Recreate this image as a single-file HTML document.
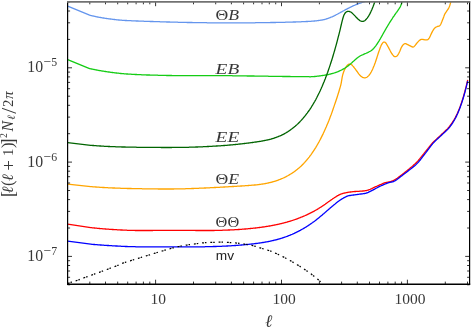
<!DOCTYPE html>
<html><head><meta charset="utf-8"><title>Noise power spectra</title>
<style>html,body{margin:0;padding:0;background:#fff;overflow:hidden}body{width:471px;height:328px;position:relative}</style>
</head><body>
<svg width="471" height="328" viewBox="0 0 471 328" style="position:absolute;left:0;top:0;will-change:transform;opacity:0.999">
<defs><clipPath id="c"><rect x="67.6" y="1.8" width="402.0" height="282.34999999999997"/></clipPath></defs>
<g clip-path="url(#c)" fill="none" stroke-linejoin="round" stroke-linecap="butt">
<path d="M67.7 6.1 L89.6 15.2 L90.1 15.3 L90.6 15.4 L91.1 15.6 L91.6 15.7 L92.1 15.8 L92.6 15.9 L93.1 16.0 L93.6 16.1 L94.1 16.2 L94.6 16.3 L95.1 16.4 L95.6 16.6 L96.1 16.7 L96.6 16.8 L97.1 16.9 L97.6 17.0 L98.1 17.1 L98.6 17.2 L99.1 17.3 L99.6 17.3 L100.1 17.4 L100.6 17.5 L101.1 17.6 L101.6 17.7 L102.1 17.8 L102.6 17.9 L103.1 18.0 L103.6 18.0 L104.1 18.1 L104.6 18.2 L105.1 18.3 L105.6 18.3 L106.1 18.4 L106.6 18.5 L107.1 18.6 L107.6 18.6 L108.1 18.7 L108.6 18.8 L109.1 18.8 L109.6 18.9 L110.1 19.0 L110.6 19.0 L111.1 19.1 L111.6 19.2 L112.1 19.2 L112.6 19.3 L113.1 19.3 L113.6 19.4 L114.1 19.5 L114.6 19.5 L115.1 19.6 L115.6 19.6 L116.1 19.7 L116.6 19.8 L117.1 19.8 L117.6 19.9 L118.1 19.9 L118.6 20.0 L119.1 20.0 L119.6 20.1 L120.1 20.1 L120.6 20.1 L121.1 20.2 L121.6 20.2 L122.1 20.3 L122.6 20.3 L123.1 20.3 L123.6 20.4 L124.1 20.4 L124.6 20.4 L125.1 20.5 L125.6 20.5 L126.1 20.5 L126.6 20.5 L127.1 20.6 L127.6 20.6 L128.1 20.6 L128.6 20.6 L129.1 20.7 L129.6 20.7 L130.1 20.7 L130.6 20.7 L131.1 20.7 L131.6 20.8 L132.1 20.8 L132.6 20.8 L133.1 20.8 L133.6 20.9 L134.1 20.9 L134.6 20.9 L135.1 20.9 L135.6 20.9 L136.1 21.0 L136.6 21.0 L137.1 21.0 L137.6 21.0 L138.1 21.0 L138.6 21.1 L139.1 21.1 L139.6 21.1 L140.1 21.1 L140.6 21.1 L141.1 21.2 L141.6 21.2 L142.1 21.2 L142.6 21.2 L143.1 21.2 L143.6 21.2 L144.1 21.3 L144.6 21.3 L145.1 21.3 L145.6 21.3 L146.1 21.3 L146.6 21.3 L147.1 21.4 L147.6 21.4 L148.1 21.4 L148.6 21.4 L149.1 21.4 L149.6 21.4 L150.1 21.5 L150.6 21.5 L151.1 21.5 L151.6 21.5 L152.1 21.5 L152.6 21.5 L153.1 21.5 L153.6 21.6 L154.1 21.6 L154.6 21.6 L155.1 21.6 L155.6 21.6 L156.1 21.6 L156.6 21.7 L157.1 21.7 L157.6 21.7 L158.1 21.7 L158.6 21.7 L159.1 21.7 L159.6 21.7 L160.1 21.8 L160.6 21.8 L161.1 21.8 L161.6 21.8 L162.1 21.8 L162.6 21.8 L163.1 21.9 L163.6 21.9 L164.1 21.9 L164.6 21.9 L165.1 21.9 L165.6 21.9 L166.1 21.9 L166.6 22.0 L167.1 22.0 L167.6 22.0 L168.1 22.0 L168.6 22.0 L169.1 22.0 L169.6 22.0 L170.1 22.1 L170.6 22.1 L171.1 22.1 L171.6 22.1 L172.1 22.1 L172.6 22.1 L173.1 22.1 L173.6 22.1 L174.1 22.2 L174.6 22.2 L175.1 22.2 L175.6 22.2 L176.1 22.2 L176.6 22.2 L177.1 22.2 L177.6 22.2 L178.1 22.3 L178.6 22.3 L179.1 22.3 L179.6 22.3 L180.1 22.3 L180.6 22.3 L181.1 22.3 L181.6 22.3 L182.1 22.3 L182.6 22.4 L183.1 22.4 L183.6 22.4 L184.1 22.4 L184.6 22.4 L185.1 22.4 L185.6 22.4 L186.1 22.4 L186.6 22.4 L187.1 22.5 L187.6 22.5 L188.1 22.5 L188.6 22.5 L189.1 22.5 L189.6 22.5 L190.1 22.5 L190.6 22.5 L191.1 22.5 L191.6 22.5 L192.1 22.5 L192.6 22.6 L193.1 22.6 L193.6 22.6 L194.1 22.6 L194.6 22.6 L195.1 22.6 L195.6 22.6 L196.1 22.6 L196.6 22.6 L197.1 22.6 L197.6 22.6 L198.1 22.6 L198.6 22.6 L199.1 22.7 L199.6 22.7 L200.1 22.7 L200.6 22.7 L201.1 22.7 L201.6 22.7 L202.1 22.7 L202.6 22.7 L203.1 22.7 L203.6 22.7 L204.1 22.7 L204.6 22.7 L205.1 22.7 L205.6 22.7 L206.1 22.7 L206.6 22.7 L207.1 22.8 L207.6 22.8 L208.1 22.8 L208.6 22.8 L209.1 22.8 L209.6 22.8 L210.1 22.8 L210.6 22.8 L211.1 22.8 L211.6 22.8 L212.1 22.8 L212.6 22.8 L213.1 22.8 L213.6 22.8 L214.1 22.8 L214.6 22.8 L215.1 22.8 L215.6 22.8 L216.1 22.8 L216.6 22.8 L217.1 22.8 L217.6 22.8 L218.1 22.8 L218.6 22.8 L219.1 22.8 L219.6 22.8 L220.1 22.9 L220.6 22.9 L221.1 22.9 L221.6 22.9 L222.1 22.9 L222.6 22.9 L223.1 22.9 L223.6 22.9 L224.1 22.9 L224.6 22.9 L225.1 22.9 L225.6 22.9 L226.1 22.9 L226.6 22.9 L227.1 22.9 L227.6 22.9 L228.1 22.9 L228.6 22.9 L229.1 22.9 L229.6 22.9 L230.1 22.9 L230.6 22.9 L231.1 22.9 L231.6 22.9 L232.1 22.9 L232.6 22.9 L233.1 22.9 L233.6 22.9 L234.1 22.9 L234.6 22.9 L235.1 22.9 L235.6 22.9 L236.1 22.9 L236.6 22.9 L237.1 22.9 L237.6 22.9 L238.1 22.9 L238.6 22.9 L239.1 22.9 L239.6 22.9 L240.1 22.9 L240.6 22.9 L241.1 22.9 L241.6 22.9 L242.1 22.9 L242.6 22.8 L243.1 22.8 L243.6 22.8 L244.1 22.8 L244.6 22.8 L245.1 22.8 L245.6 22.8 L246.1 22.8 L246.6 22.8 L247.1 22.8 L247.6 22.8 L248.1 22.8 L248.6 22.8 L249.1 22.8 L249.6 22.8 L250.1 22.8 L250.6 22.8 L251.1 22.8 L251.6 22.8 L252.1 22.8 L252.6 22.8 L253.1 22.8 L253.6 22.8 L254.1 22.8 L254.6 22.8 L255.1 22.8 L255.6 22.7 L256.1 22.7 L256.6 22.7 L257.1 22.7 L257.6 22.7 L258.1 22.7 L258.6 22.7 L259.1 22.7 L259.6 22.7 L260.1 22.7 L260.6 22.7 L261.1 22.7 L261.6 22.7 L262.1 22.7 L262.6 22.7 L263.1 22.7 L263.6 22.6 L264.1 22.6 L264.6 22.6 L265.1 22.6 L265.6 22.6 L266.1 22.6 L266.6 22.6 L267.1 22.6 L267.6 22.6 L268.1 22.6 L268.6 22.6 L269.1 22.6 L269.6 22.6 L270.1 22.6 L270.6 22.5 L271.1 22.5 L271.6 22.5 L272.1 22.5 L272.6 22.5 L273.1 22.5 L273.6 22.5 L274.1 22.5 L274.6 22.5 L275.1 22.5 L275.6 22.5 L276.1 22.4 L276.6 22.4 L277.1 22.4 L277.6 22.4 L278.1 22.4 L278.6 22.4 L279.1 22.4 L279.6 22.4 L280.1 22.4 L280.6 22.4 L281.1 22.4 L281.6 22.3 L282.1 22.3 L282.6 22.3 L283.1 22.3 L283.6 22.3 L284.1 22.3 L284.6 22.3 L285.1 22.3 L285.6 22.2 L286.1 22.2 L286.6 22.2 L287.1 22.2 L287.6 22.2 L288.1 22.2 L288.6 22.2 L289.1 22.2 L289.6 22.1 L290.1 22.1 L290.6 22.1 L291.1 22.1 L291.6 22.1 L292.1 22.1 L292.6 22.1 L293.1 22.0 L293.6 22.0 L294.1 22.0 L294.6 22.0 L295.1 22.0 L295.6 22.0 L296.1 21.9 L296.6 21.9 L297.1 21.9 L297.6 21.9 L298.1 21.9 L298.6 21.9 L299.1 21.8 L299.6 21.8 L300.1 21.8 L300.6 21.8 L301.1 21.8 L301.6 21.7 L302.1 21.7 L302.6 21.7 L303.1 21.7 L303.6 21.7 L304.1 21.6 L304.6 21.6 L305.1 21.6 L305.6 21.6 L306.1 21.5 L306.6 21.5 L307.1 21.5 L307.6 21.5 L308.1 21.4 L308.6 21.4 L309.1 21.4 L309.6 21.4 L310.1 21.3 L310.6 21.3 L311.1 21.3 L311.6 21.2 L312.1 21.2 L312.6 21.2 L313.1 21.1 L313.6 21.1 L314.1 21.0 L314.6 21.0 L315.1 20.9 L315.6 20.9 L316.1 20.8 L316.6 20.8 L317.1 20.7 L317.6 20.6 L318.1 20.6 L318.6 20.5 L319.1 20.4 L319.6 20.4 L320.1 20.3 L320.6 20.2 L321.1 20.2 L321.6 20.1 L322.1 20.0 L322.6 19.9 L323.1 19.8 L323.6 19.7 L324.1 19.6 L324.6 19.5 L325.1 19.3 L325.6 19.2 L326.1 19.0 L326.6 18.9 L327.1 18.7 L327.6 18.6 L328.1 18.4 L328.6 18.2 L329.1 18.0 L329.6 17.8 L330.1 17.6 L330.6 17.4 L331.1 17.2 L331.6 17.0 L332.1 16.8 L332.6 16.6 L333.1 16.3 L333.6 16.1 L334.1 15.8 L334.6 15.6 L335.1 15.3 L335.6 15.1 L336.1 14.8 L336.6 14.5 L337.1 14.3 L337.6 14.0 L338.1 13.8 L338.6 13.5 L339.1 13.2 L339.6 13.0 L340.1 12.7 L340.6 12.4 L341.1 12.1 L341.6 11.9 L342.1 11.6 L342.6 11.3 L343.1 11.0 L343.6 10.8 L344.1 10.5 L344.6 10.2 L345.1 9.9 L345.6 9.7 L346.1 9.4 L346.6 9.1 L347.1 8.9 L347.6 8.6 L348.1 8.3 L348.6 8.1 L349.1 7.8 L349.6 7.6 L350.1 7.3 L350.6 7.1 L351.1 6.8 L351.6 6.6 L352.1 6.4 L352.6 6.1 L353.1 5.9 L353.6 5.7 L354.1 5.5 L354.6 5.3 L355.1 5.0 L355.6 4.8 L356.1 4.6 L356.6 4.4 L357.1 4.3 L357.6 4.1 L358.1 3.9 L358.6 3.7 L359.1 3.5 L359.6 3.3 L360.1 3.1 L360.6 3.0 L361.1 2.8 L361.6 2.6 L362.1 2.4 L362.6 2.3 L363.1 2.1 L363.6 1.9 L364.1 1.8 L364.6 1.6 L365.0 1.5" stroke="#6495ed" stroke-width="1.3"/>
<path d="M67.7 184.1 L90.7 186.6 L91.2 186.6 L91.7 186.7 L92.2 186.7 L92.7 186.8 L93.2 186.8 L93.7 186.8 L94.2 186.9 L94.7 186.9 L95.2 186.9 L95.7 187.0 L96.2 187.0 L96.7 187.1 L97.2 187.1 L97.7 187.1 L98.2 187.2 L98.7 187.2 L99.2 187.2 L99.7 187.3 L100.2 187.3 L100.7 187.3 L101.2 187.4 L101.7 187.4 L102.2 187.4 L102.7 187.5 L103.2 187.5 L103.7 187.5 L104.2 187.5 L104.7 187.6 L105.2 187.6 L105.7 187.6 L106.2 187.7 L106.7 187.7 L107.2 187.7 L107.7 187.7 L108.2 187.8 L108.7 187.8 L109.2 187.8 L109.7 187.8 L110.2 187.9 L110.7 187.9 L111.2 187.9 L111.7 187.9 L112.2 187.9 L112.7 188.0 L113.2 188.0 L113.7 188.0 L114.2 188.0 L114.7 188.0 L115.2 188.1 L115.7 188.1 L116.2 188.1 L116.7 188.1 L117.2 188.1 L117.7 188.2 L118.2 188.2 L118.7 188.2 L119.2 188.2 L119.7 188.2 L120.2 188.2 L120.7 188.3 L121.2 188.3 L121.7 188.3 L122.2 188.3 L122.7 188.3 L123.2 188.3 L123.7 188.4 L124.2 188.4 L124.7 188.4 L125.2 188.4 L125.7 188.4 L126.2 188.4 L126.7 188.4 L127.2 188.5 L127.7 188.5 L128.2 188.5 L128.7 188.5 L129.2 188.5 L129.7 188.5 L130.2 188.5 L130.7 188.5 L131.2 188.5 L131.7 188.6 L132.2 188.6 L132.7 188.6 L133.2 188.6 L133.7 188.6 L134.2 188.6 L134.7 188.6 L135.2 188.6 L135.7 188.6 L136.2 188.6 L136.7 188.7 L137.2 188.7 L137.7 188.7 L138.2 188.7 L138.7 188.7 L139.2 188.7 L139.7 188.7 L140.2 188.7 L140.7 188.7 L141.2 188.7 L141.7 188.7 L142.2 188.8 L142.7 188.8 L143.2 188.8 L143.7 188.8 L144.2 188.8 L144.7 188.8 L145.2 188.8 L145.7 188.8 L146.2 188.8 L146.7 188.8 L147.2 188.8 L147.7 188.8 L148.2 188.8 L148.7 188.8 L149.2 188.9 L149.7 188.9 L150.2 188.9 L150.7 188.9 L151.2 188.9 L151.7 188.9 L152.2 188.9 L152.7 188.9 L153.2 188.9 L153.7 188.9 L154.2 188.9 L154.7 188.9 L155.2 188.9 L155.7 188.9 L156.2 188.9 L156.7 188.9 L157.2 188.9 L157.7 188.9 L158.2 189.0 L158.7 189.0 L159.2 189.0 L159.7 189.0 L160.2 189.0 L160.7 189.0 L161.2 189.0 L161.7 189.0 L162.2 189.0 L162.7 189.0 L163.2 189.0 L163.7 189.0 L164.2 189.0 L164.7 189.0 L165.2 189.0 L165.7 189.0 L166.2 189.0 L166.7 189.0 L167.2 189.0 L167.7 189.0 L168.2 189.0 L168.7 189.0 L169.2 189.0 L169.7 189.0 L170.2 189.0 L170.7 189.0 L171.2 189.0 L171.7 189.0 L172.2 189.0 L172.7 189.0 L173.2 189.0 L173.7 189.0 L174.2 188.9 L174.7 188.9 L175.2 188.9 L175.7 188.9 L176.2 188.9 L176.7 188.9 L177.2 188.9 L177.7 188.9 L178.2 188.9 L178.7 188.9 L179.2 188.9 L179.7 188.9 L180.2 188.9 L180.7 188.9 L181.2 188.8 L181.7 188.8 L182.2 188.8 L182.7 188.8 L183.2 188.8 L183.7 188.8 L184.2 188.8 L184.7 188.8 L185.2 188.8 L185.7 188.7 L186.2 188.7 L186.7 188.7 L187.2 188.7 L187.7 188.7 L188.2 188.7 L188.7 188.6 L189.2 188.6 L189.7 188.6 L190.2 188.6 L190.7 188.6 L191.2 188.6 L191.7 188.5 L192.2 188.5 L192.7 188.5 L193.2 188.5 L193.7 188.5 L194.2 188.4 L194.7 188.4 L195.2 188.4 L195.7 188.4 L196.2 188.4 L196.7 188.3 L197.2 188.3 L197.7 188.3 L198.2 188.3 L198.7 188.3 L199.2 188.2 L199.7 188.2 L200.2 188.2 L200.7 188.2 L201.2 188.2 L201.7 188.1 L202.2 188.1 L202.7 188.1 L203.2 188.1 L203.7 188.1 L204.2 188.0 L204.7 188.0 L205.2 188.0 L205.7 188.0 L206.2 187.9 L206.7 187.9 L207.2 187.9 L207.7 187.9 L208.2 187.8 L208.7 187.8 L209.2 187.8 L209.7 187.8 L210.2 187.7 L210.7 187.7 L211.2 187.7 L211.7 187.7 L212.2 187.6 L212.7 187.6 L213.2 187.6 L213.7 187.6 L214.2 187.5 L214.7 187.5 L215.2 187.5 L215.7 187.5 L216.2 187.4 L216.7 187.4 L217.2 187.4 L217.7 187.4 L218.2 187.3 L218.7 187.3 L219.2 187.3 L219.7 187.3 L220.2 187.2 L220.7 187.2 L221.2 187.2 L221.7 187.1 L222.2 187.1 L222.7 187.1 L223.2 187.1 L223.7 187.0 L224.2 187.0 L224.7 187.0 L225.2 186.9 L225.7 186.9 L226.2 186.9 L226.7 186.9 L227.2 186.8 L227.7 186.8 L228.2 186.8 L228.7 186.7 L229.2 186.7 L229.7 186.7 L230.2 186.7 L230.7 186.6 L231.2 186.6 L231.7 186.6 L232.2 186.5 L232.7 186.5 L233.2 186.5 L233.7 186.5 L234.2 186.4 L234.7 186.4 L235.2 186.4 L235.7 186.3 L236.2 186.3 L236.7 186.3 L237.2 186.2 L237.7 186.2 L238.2 186.2 L238.7 186.1 L239.2 186.1 L239.7 186.1 L240.2 186.1 L240.7 186.0 L241.2 186.0 L241.7 186.0 L242.2 185.9 L242.7 185.9 L243.2 185.9 L243.7 185.8 L244.2 185.8 L244.7 185.8 L245.2 185.7 L245.7 185.7 L246.2 185.7 L246.7 185.6 L247.2 185.6 L247.7 185.6 L248.2 185.5 L248.7 185.5 L249.2 185.4 L249.7 185.4 L250.2 185.4 L250.7 185.3 L251.2 185.3 L251.7 185.2 L252.2 185.2 L252.7 185.2 L253.2 185.1 L253.7 185.1 L254.2 185.0 L254.7 185.0 L255.2 185.0 L255.7 184.9 L256.2 184.9 L256.7 184.8 L257.2 184.8 L257.7 184.7 L258.2 184.6 L258.7 184.6 L259.2 184.5 L259.7 184.4 L260.2 184.4 L260.7 184.3 L261.2 184.2 L261.7 184.2 L262.2 184.1 L262.7 184.0 L263.2 183.9 L263.7 183.8 L264.2 183.8 L264.7 183.7 L265.2 183.6 L265.7 183.5 L266.2 183.4 L266.7 183.3 L267.2 183.2 L267.7 183.1 L268.2 183.0 L268.7 182.9 L269.2 182.7 L269.7 182.6 L270.2 182.5 L270.7 182.4 L271.2 182.3 L271.7 182.1 L272.2 182.0 L272.7 181.9 L273.2 181.7 L273.7 181.6 L274.2 181.4 L274.7 181.3 L275.2 181.1 L275.7 181.0 L276.2 180.8 L276.7 180.6 L277.2 180.5 L277.7 180.3 L278.2 180.1 L278.7 179.9 L279.2 179.7 L279.7 179.5 L280.2 179.3 L280.7 179.1 L281.2 178.9 L281.7 178.7 L282.2 178.5 L282.7 178.3 L283.2 178.0 L283.7 177.8 L284.2 177.6 L284.7 177.3 L285.2 177.1 L285.7 176.8 L286.2 176.6 L286.7 176.3 L287.2 176.0 L287.7 175.8 L288.2 175.5 L288.7 175.2 L289.2 174.9 L289.7 174.6 L290.2 174.3 L290.7 174.0 L291.2 173.7 L291.7 173.4 L292.2 173.1 L292.7 172.7 L293.2 172.4 L293.7 172.1 L294.2 171.7 L294.7 171.4 L295.2 171.0 L295.7 170.6 L296.2 170.2 L296.7 169.8 L297.2 169.4 L297.7 169.0 L298.2 168.6 L298.7 168.2 L299.2 167.8 L299.7 167.3 L300.2 166.9 L300.7 166.4 L301.2 166.0 L301.7 165.5 L302.2 165.0 L302.7 164.5 L303.2 164.0 L303.7 163.5 L304.2 162.9 L304.7 162.4 L305.2 161.8 L305.7 161.3 L306.2 160.7 L306.7 160.1 L307.2 159.5 L307.7 158.9 L308.2 158.3 L308.7 157.7 L309.2 157.1 L309.7 156.4 L310.2 155.7 L310.7 155.1 L311.2 154.4 L311.7 153.7 L312.2 152.9 L312.7 152.2 L313.2 151.5 L313.7 150.7 L314.2 150.0 L314.7 149.2 L315.2 148.4 L315.7 147.6 L316.2 146.7 L316.7 145.9 L317.2 145.0 L317.7 144.2 L318.2 143.3 L318.7 142.4 L319.2 141.5 L319.7 140.5 L320.2 139.6 L320.7 138.6 L321.2 137.6 L321.7 136.6 L322.2 135.6 L322.7 134.6 L323.2 133.6 L323.7 132.5 L324.2 131.4 L324.7 130.3 L325.2 129.2 L325.7 128.1 L326.2 127.0 L326.7 125.8 L327.2 124.6 L327.7 123.4 L328.2 122.2 L328.7 121.0 L329.2 119.7 L329.7 118.4 L330.2 117.1 L330.7 115.8 L331.2 114.5 L331.7 113.1 L332.2 111.7 L332.7 110.3 L333.2 108.8 L333.7 107.4 L334.2 105.9 L334.7 104.4 L335.2 103.0 L335.7 101.5 L336.2 100.0 L336.7 98.5 L337.2 97.0 L337.7 95.4 L338.2 93.8 L338.7 92.2 L339.2 90.5 L339.7 88.8 L340.2 87.1 L340.7 85.3 L341.2 83.1 L341.7 80.1 L342.2 77.1 L342.7 74.9 L343.2 73.2 L343.7 71.8 L344.2 70.5 L344.7 69.4 L345.2 68.5 L345.7 67.6 L346.2 66.8 L346.7 66.0 L347.2 65.4 L347.7 64.9 L348.2 64.5 L348.7 64.2 L349.2 64.1 L349.7 64.1 L350.2 64.2 L350.7 64.3 L351.2 64.5 L351.7 64.8 L352.2 65.3 L352.7 65.9 L353.2 66.4 L353.7 67.0 L354.2 67.7 L354.7 68.3 L355.2 68.9 L355.7 69.6 L356.2 70.3 L356.7 71.0 L357.2 71.7 L357.7 72.4 L358.2 73.1 L358.7 73.8 L359.2 74.4 L359.7 75.0 L360.2 75.5 L360.7 76.0 L361.2 76.4 L361.7 76.7 L362.2 77.1 L362.7 77.4 L363.2 77.6 L363.7 77.7 L364.2 77.8 L364.7 77.8 L365.2 77.8 L365.7 77.7 L366.2 77.5 L366.7 77.3 L367.2 77.0 L367.7 76.6 L368.2 76.1 L368.7 75.6 L369.2 75.0 L369.7 74.3 L370.2 73.6 L370.7 72.8 L371.2 72.0 L371.7 71.0 L372.2 70.1 L372.7 69.0 L373.2 67.8 L373.7 66.6 L374.2 65.4 L374.7 64.0 L375.2 62.7 L375.7 61.3 L376.2 59.8 L376.7 58.2 L377.2 56.6 L377.7 55.1 L378.2 53.5 L378.7 52.0 L379.2 50.6 L379.7 49.2 L380.2 47.8 L380.7 46.6 L381.2 45.3 L381.7 44.4 L382.2 43.6 L382.7 42.9 L383.2 42.4 L383.7 42.2 L384.2 42.1 L384.7 42.2 L385.2 42.4 L385.7 42.8 L386.2 43.5 L386.7 44.4 L387.2 45.2 L387.7 46.1 L388.2 47.0 L388.7 47.9 L389.2 48.9 L389.7 49.8 L390.2 50.8 L390.7 51.7 L391.2 52.7 L391.7 53.5 L392.2 54.2 L392.7 54.9 L393.2 55.4 L393.7 56.0 L394.2 56.4 L394.7 56.6 L395.2 56.7 L395.7 56.7 L396.2 56.5 L396.7 56.2 L397.2 55.8 L397.7 55.1 L398.2 54.3 L398.7 53.5 L399.2 52.5 L399.7 51.5 L400.2 50.3 L400.7 49.0 L401.2 47.8 L401.7 46.9 L402.2 46.0 L402.7 45.3 L403.2 44.7 L403.7 44.3 L404.2 44.0 L404.7 43.7 L405.2 43.6 L405.7 43.7 L406.2 43.9 L406.7 44.1 L407.2 44.4 L407.7 44.6 L408.2 44.8 L408.7 45.1 L409.2 45.4 L409.7 45.6 L410.2 45.9 L410.7 46.2 L411.2 46.4 L411.7 46.7 L412.2 46.9 L412.7 47.0 L413.2 47.0 L413.7 46.8 L414.2 46.4 L414.7 45.9 L415.2 45.3 L415.7 44.7 L416.2 44.0 L416.7 43.3 L417.2 42.7 L417.7 42.2 L418.2 41.6 L418.7 41.1 L419.2 40.6 L419.7 40.2 L420.2 39.9 L420.7 39.6 L421.2 39.4 L421.7 39.3 L422.2 39.3 L422.7 39.4 L423.2 39.5 L423.7 39.6 L424.2 39.7 L424.7 39.8 L425.2 39.9 L425.7 39.9 L426.2 39.9 L426.7 39.9 L427.2 39.8 L427.7 39.7 L428.2 39.3 L428.7 38.8 L429.2 38.0 L429.7 37.1 L430.2 36.1 L430.7 35.0 L431.2 33.9 L431.7 32.9 L432.2 31.9 L432.7 31.0 L433.2 30.2 L433.7 29.4 L434.2 28.7 L434.7 28.1 L435.2 27.7 L435.7 27.3 L436.2 27.0 L436.7 26.8 L437.2 26.5 L437.7 26.4 L438.2 26.3 L438.7 26.2 L439.2 26.1 L439.7 25.7 L440.2 25.1 L440.7 24.3 L441.2 23.3 L441.7 22.1 L442.2 20.8 L442.7 19.6 L443.2 18.2 L443.7 16.9 L444.2 15.5 L444.7 14.3 L445.2 13.4 L445.7 12.6 L446.2 11.9 L446.7 11.1 L447.2 10.4 L447.7 9.7 L448.2 9.0 L448.7 8.1 L449.2 7.0 L449.7 5.7 L450.2 4.1 L450.7 2.3 L451.1 0.6" stroke="#ffa500" stroke-width="1.3"/>
<path d="M67.7 59.6 L89.6 68.6 L90.1 68.7 L90.6 68.8 L91.1 68.9 L91.6 69.0 L92.1 69.1 L92.6 69.2 L93.1 69.3 L93.6 69.4 L94.1 69.5 L94.6 69.6 L95.1 69.7 L95.6 69.8 L96.1 69.9 L96.6 70.0 L97.1 70.1 L97.6 70.2 L98.1 70.3 L98.6 70.4 L99.1 70.5 L99.6 70.6 L100.1 70.7 L100.6 70.7 L101.1 70.8 L101.6 70.9 L102.1 71.0 L102.6 71.1 L103.1 71.2 L103.6 71.2 L104.1 71.3 L104.6 71.4 L105.1 71.5 L105.6 71.5 L106.1 71.6 L106.6 71.7 L107.1 71.8 L107.6 71.8 L108.1 71.9 L108.6 72.0 L109.1 72.0 L109.6 72.1 L110.1 72.2 L110.6 72.3 L111.1 72.3 L111.6 72.4 L112.1 72.5 L112.6 72.5 L113.1 72.6 L113.6 72.7 L114.1 72.7 L114.6 72.8 L115.1 72.8 L115.6 72.9 L116.1 73.0 L116.6 73.0 L117.1 73.1 L117.6 73.1 L118.1 73.2 L118.6 73.2 L119.1 73.3 L119.6 73.4 L120.1 73.4 L120.6 73.5 L121.1 73.5 L121.6 73.6 L122.1 73.6 L122.6 73.6 L123.1 73.7 L123.6 73.7 L124.1 73.8 L124.6 73.8 L125.1 73.8 L125.6 73.9 L126.1 73.9 L126.6 74.0 L127.1 74.0 L127.6 74.0 L128.1 74.1 L128.6 74.1 L129.1 74.1 L129.6 74.1 L130.1 74.2 L130.6 74.2 L131.1 74.2 L131.6 74.3 L132.1 74.3 L132.6 74.3 L133.1 74.4 L133.6 74.4 L134.1 74.4 L134.6 74.4 L135.1 74.5 L135.6 74.5 L136.1 74.5 L136.6 74.5 L137.1 74.6 L137.6 74.6 L138.1 74.6 L138.6 74.6 L139.1 74.7 L139.6 74.7 L140.1 74.7 L140.6 74.7 L141.1 74.7 L141.6 74.8 L142.1 74.8 L142.6 74.8 L143.1 74.8 L143.6 74.8 L144.1 74.9 L144.6 74.9 L145.1 74.9 L145.6 74.9 L146.1 74.9 L146.6 75.0 L147.1 75.0 L147.6 75.0 L148.1 75.0 L148.6 75.0 L149.1 75.0 L149.6 75.0 L150.1 75.1 L150.6 75.1 L151.1 75.1 L151.6 75.1 L152.1 75.1 L152.6 75.1 L153.1 75.1 L153.6 75.1 L154.1 75.2 L154.6 75.2 L155.1 75.2 L155.6 75.2 L156.1 75.2 L156.6 75.2 L157.1 75.2 L157.6 75.2 L158.1 75.3 L158.6 75.3 L159.1 75.3 L159.6 75.3 L160.1 75.3 L160.6 75.3 L161.1 75.3 L161.6 75.3 L162.1 75.4 L162.6 75.4 L163.1 75.4 L163.6 75.4 L164.1 75.4 L164.6 75.4 L165.1 75.4 L165.6 75.4 L166.1 75.4 L166.6 75.5 L167.1 75.5 L167.6 75.5 L168.1 75.5 L168.6 75.5 L169.1 75.5 L169.6 75.5 L170.1 75.5 L170.6 75.5 L171.1 75.5 L171.6 75.5 L172.1 75.6 L172.6 75.6 L173.1 75.6 L173.6 75.6 L174.1 75.6 L174.6 75.6 L175.1 75.6 L175.6 75.6 L176.1 75.6 L176.6 75.6 L177.1 75.6 L177.6 75.6 L178.1 75.6 L178.6 75.6 L179.1 75.6 L179.6 75.6 L180.1 75.6 L180.6 75.7 L181.1 75.7 L181.6 75.7 L182.1 75.7 L182.6 75.7 L183.1 75.7 L183.6 75.7 L184.1 75.7 L184.6 75.7 L185.1 75.7 L185.6 75.7 L186.1 75.7 L186.6 75.7 L187.1 75.7 L187.6 75.7 L188.1 75.7 L188.6 75.7 L189.1 75.7 L189.6 75.7 L190.1 75.7 L190.6 75.7 L191.1 75.7 L191.6 75.7 L192.1 75.7 L192.6 75.7 L193.1 75.7 L193.6 75.7 L194.1 75.7 L194.6 75.7 L195.1 75.7 L195.6 75.7 L196.1 75.7 L196.6 75.7 L197.1 75.7 L197.6 75.7 L198.1 75.7 L198.6 75.7 L199.1 75.7 L199.6 75.7 L200.1 75.7 L200.6 75.7 L201.1 75.7 L201.6 75.7 L202.1 75.7 L202.6 75.7 L203.1 75.7 L203.6 75.7 L204.1 75.7 L204.6 75.7 L205.1 75.7 L205.6 75.7 L206.1 75.7 L206.6 75.6 L207.1 75.6 L207.6 75.6 L208.1 75.6 L208.6 75.6 L209.1 75.6 L209.6 75.6 L210.1 75.6 L210.6 75.6 L211.1 75.6 L211.6 75.6 L212.1 75.6 L212.6 75.6 L213.1 75.6 L213.6 75.6 L214.1 75.6 L214.6 75.6 L215.1 75.6 L215.6 75.6 L216.1 75.6 L216.6 75.6 L217.1 75.6 L217.6 75.6 L218.1 75.6 L218.6 75.6 L219.1 75.6 L219.6 75.6 L220.1 75.6 L220.6 75.6 L221.1 75.7 L221.6 75.7 L222.1 75.7 L222.6 75.7 L223.1 75.7 L223.6 75.7 L224.1 75.7 L224.6 75.7 L225.1 75.7 L225.6 75.7 L226.1 75.7 L226.6 75.7 L227.1 75.7 L227.6 75.7 L228.1 75.7 L228.6 75.7 L229.1 75.7 L229.6 75.7 L230.1 75.7 L230.6 75.7 L231.1 75.7 L231.6 75.7 L232.1 75.7 L232.6 75.8 L233.1 75.8 L233.6 75.8 L234.1 75.8 L234.6 75.8 L235.1 75.8 L235.6 75.8 L236.1 75.8 L236.6 75.8 L237.1 75.8 L237.6 75.8 L238.1 75.8 L238.6 75.8 L239.1 75.8 L239.6 75.8 L240.1 75.9 L240.6 75.9 L241.1 75.9 L241.6 75.9 L242.1 75.9 L242.6 75.9 L243.1 75.9 L243.6 75.9 L244.1 75.9 L244.6 75.9 L245.1 75.9 L245.6 75.9 L246.1 75.9 L246.6 75.9 L247.1 76.0 L247.6 76.0 L248.1 76.0 L248.6 76.0 L249.1 76.0 L249.6 76.0 L250.1 76.0 L250.6 76.0 L251.1 76.0 L251.6 76.0 L252.1 76.0 L252.6 76.0 L253.1 76.0 L253.6 76.0 L254.1 76.0 L254.6 76.1 L255.1 76.1 L255.6 76.1 L256.1 76.1 L256.6 76.1 L257.1 76.1 L257.6 76.1 L258.1 76.1 L258.6 76.1 L259.1 76.1 L259.6 76.1 L260.1 76.1 L260.6 76.1 L261.1 76.1 L261.6 76.2 L262.1 76.2 L262.6 76.2 L263.1 76.2 L263.6 76.2 L264.1 76.2 L264.6 76.2 L265.1 76.2 L265.6 76.2 L266.1 76.2 L266.6 76.2 L267.1 76.2 L267.6 76.2 L268.1 76.2 L268.6 76.3 L269.1 76.3 L269.6 76.3 L270.1 76.3 L270.6 76.3 L271.1 76.3 L271.6 76.3 L272.1 76.3 L272.6 76.3 L273.1 76.3 L273.6 76.3 L274.1 76.3 L274.6 76.3 L275.1 76.3 L275.6 76.4 L276.1 76.4 L276.6 76.4 L277.1 76.4 L277.6 76.4 L278.1 76.4 L278.6 76.4 L279.1 76.4 L279.6 76.4 L280.1 76.4 L280.6 76.4 L281.1 76.4 L281.6 76.4 L282.1 76.4 L282.6 76.5 L283.1 76.5 L283.6 76.5 L284.1 76.5 L284.6 76.5 L285.1 76.5 L285.6 76.5 L286.1 76.5 L286.6 76.5 L287.1 76.5 L287.6 76.5 L288.1 76.5 L288.6 76.5 L289.1 76.5 L289.6 76.5 L290.1 76.5 L290.6 76.6 L291.1 76.6 L291.6 76.6 L292.1 76.6 L292.6 76.6 L293.1 76.6 L293.6 76.6 L294.1 76.6 L294.6 76.6 L295.1 76.6 L295.6 76.6 L296.1 76.6 L296.6 76.6 L297.1 76.6 L297.6 76.6 L298.1 76.6 L298.6 76.6 L299.1 76.7 L299.6 76.7 L300.1 76.7 L300.6 76.7 L301.1 76.7 L301.6 76.7 L302.1 76.7 L302.6 76.7 L303.1 76.7 L303.6 76.7 L304.1 76.7 L304.6 76.7 L305.1 76.7 L305.6 76.7 L306.1 76.7 L306.6 76.7 L307.1 76.7 L307.6 76.7 L308.1 76.7 L308.6 76.7 L309.1 76.7 L309.6 76.8 L310.1 76.8 L310.6 76.8 L311.1 76.7 L311.6 76.7 L312.1 76.7 L312.6 76.7 L313.1 76.6 L313.6 76.6 L314.1 76.6 L314.6 76.5 L315.1 76.5 L315.6 76.4 L316.1 76.4 L316.6 76.3 L317.1 76.2 L317.6 76.2 L318.1 76.1 L318.6 76.1 L319.1 76.0 L319.6 75.9 L320.1 75.9 L320.6 75.8 L321.1 75.7 L321.6 75.7 L322.1 75.6 L322.6 75.5 L323.1 75.4 L323.6 75.4 L324.1 75.3 L324.6 75.2 L325.1 75.1 L325.6 75.0 L326.1 74.9 L326.6 74.8 L327.1 74.8 L327.6 74.7 L328.1 74.6 L328.6 74.5 L329.1 74.3 L329.6 74.2 L330.1 74.1 L330.6 74.0 L331.1 73.9 L331.6 73.7 L332.1 73.6 L332.6 73.4 L333.1 73.3 L333.6 73.2 L334.1 73.0 L334.6 72.8 L335.1 72.7 L335.6 72.5 L336.1 72.4 L336.6 72.2 L337.1 72.0 L337.6 71.8 L338.1 71.6 L338.6 71.4 L339.1 71.2 L339.6 70.9 L340.1 70.7 L340.6 70.5 L341.1 70.2 L341.6 70.0 L342.1 69.7 L342.6 69.4 L343.1 69.2 L343.6 68.9 L344.1 68.6 L344.6 68.3 L345.1 68.0 L345.6 67.6 L346.1 67.3 L346.6 67.0 L347.1 66.6 L347.6 66.2 L348.1 65.9 L348.6 65.5 L349.1 65.1 L349.6 64.7 L350.1 64.3 L350.6 63.8 L351.1 63.4 L351.6 62.9 L352.1 62.5 L352.6 62.0 L353.1 61.6 L353.6 61.1 L354.1 60.7 L354.6 60.2 L355.1 59.8 L355.6 59.3 L356.1 58.9 L356.6 58.5 L357.1 58.1 L357.6 57.7 L358.1 57.3 L358.6 57.0 L359.1 56.6 L359.6 56.3 L360.1 56.0 L360.6 55.7 L361.1 55.5 L361.6 55.2 L362.1 55.0 L362.6 54.8 L363.1 54.6 L363.6 54.3 L364.1 54.1 L364.6 53.9 L365.1 53.7 L365.6 53.5 L366.1 53.3 L366.6 53.0 L367.1 52.8 L367.6 52.6 L368.1 52.3 L368.6 52.1 L369.1 51.8 L369.6 51.5 L370.1 51.3 L370.6 51.0 L371.1 50.7 L371.6 50.3 L372.1 49.9 L372.6 49.5 L373.1 49.0 L373.6 48.5 L374.1 47.9 L374.6 47.3 L375.1 46.7 L375.6 46.1 L376.1 45.4 L376.6 44.7 L377.1 44.0 L377.6 43.2 L378.1 42.4 L378.6 41.6 L379.1 40.8 L379.6 39.9 L380.1 39.1 L380.6 38.2 L381.1 37.4 L381.6 36.5 L382.1 35.6 L382.6 34.7 L383.1 33.8 L383.6 32.9 L384.1 32.0 L384.6 31.2 L385.1 30.3 L385.6 29.4 L386.1 28.5 L386.6 27.7 L387.1 26.8 L387.6 26.0 L388.1 25.2 L388.6 24.3 L389.1 23.5 L389.6 22.7 L390.1 21.9 L390.6 21.1 L391.1 20.3 L391.6 19.5 L392.1 18.8 L392.6 18.0 L393.1 17.2 L393.6 16.5 L394.1 15.8 L394.6 15.0 L395.1 14.3 L395.6 13.6 L396.1 12.9 L396.6 12.3 L397.1 11.6 L397.6 10.9 L398.1 10.1 L398.6 9.4 L399.1 8.7 L399.6 7.9 L400.1 7.1 L400.6 6.0 L401.1 4.7 L401.6 3.4 L402.1 1.7 L402.3 1.0" stroke="#14cc14" stroke-width="1.3"/>
<path d="M67.7 142.7 L90.7 145.3 L91.2 145.3 L91.7 145.4 L92.2 145.4 L92.7 145.5 L93.2 145.5 L93.7 145.5 L94.2 145.6 L94.7 145.6 L95.2 145.7 L95.7 145.7 L96.2 145.7 L96.7 145.8 L97.2 145.8 L97.7 145.8 L98.2 145.9 L98.7 145.9 L99.2 145.9 L99.7 146.0 L100.2 146.0 L100.7 146.0 L101.2 146.1 L101.7 146.1 L102.2 146.1 L102.7 146.2 L103.2 146.2 L103.7 146.2 L104.2 146.3 L104.7 146.3 L105.2 146.3 L105.7 146.3 L106.2 146.4 L106.7 146.4 L107.2 146.4 L107.7 146.4 L108.2 146.5 L108.7 146.5 L109.2 146.5 L109.7 146.5 L110.2 146.6 L110.7 146.6 L111.2 146.6 L111.7 146.6 L112.2 146.6 L112.7 146.7 L113.2 146.7 L113.7 146.7 L114.2 146.7 L114.7 146.7 L115.2 146.7 L115.7 146.8 L116.2 146.8 L116.7 146.8 L117.2 146.8 L117.7 146.8 L118.2 146.8 L118.7 146.9 L119.2 146.9 L119.7 146.9 L120.2 146.9 L120.7 146.9 L121.2 146.9 L121.7 147.0 L122.2 147.0 L122.7 147.0 L123.2 147.0 L123.7 147.0 L124.2 147.0 L124.7 147.0 L125.2 147.0 L125.7 147.1 L126.2 147.1 L126.7 147.1 L127.2 147.1 L127.7 147.1 L128.2 147.1 L128.7 147.1 L129.2 147.1 L129.7 147.1 L130.2 147.1 L130.7 147.2 L131.2 147.2 L131.7 147.2 L132.2 147.2 L132.7 147.2 L133.2 147.2 L133.7 147.2 L134.2 147.2 L134.7 147.2 L135.2 147.2 L135.7 147.2 L136.2 147.2 L136.7 147.3 L137.2 147.3 L137.7 147.3 L138.2 147.3 L138.7 147.3 L139.2 147.3 L139.7 147.3 L140.2 147.3 L140.7 147.3 L141.2 147.3 L141.7 147.3 L142.2 147.3 L142.7 147.3 L143.2 147.3 L143.7 147.3 L144.2 147.3 L144.7 147.3 L145.2 147.3 L145.7 147.4 L146.2 147.4 L146.7 147.4 L147.2 147.4 L147.7 147.4 L148.2 147.4 L148.7 147.4 L149.2 147.4 L149.7 147.4 L150.2 147.4 L150.7 147.4 L151.2 147.4 L151.7 147.4 L152.2 147.4 L152.7 147.4 L153.2 147.4 L153.7 147.4 L154.2 147.4 L154.7 147.4 L155.2 147.4 L155.7 147.4 L156.2 147.4 L156.7 147.4 L157.2 147.4 L157.7 147.4 L158.2 147.4 L158.7 147.4 L159.2 147.4 L159.7 147.4 L160.2 147.4 L160.7 147.4 L161.2 147.5 L161.7 147.5 L162.2 147.5 L162.7 147.5 L163.2 147.5 L163.7 147.5 L164.2 147.5 L164.7 147.5 L165.2 147.5 L165.7 147.5 L166.2 147.5 L166.7 147.5 L167.2 147.5 L167.7 147.5 L168.2 147.5 L168.7 147.5 L169.2 147.5 L169.7 147.5 L170.2 147.5 L170.7 147.5 L171.2 147.5 L171.7 147.5 L172.2 147.4 L172.7 147.4 L173.2 147.4 L173.7 147.4 L174.2 147.4 L174.7 147.4 L175.2 147.4 L175.7 147.4 L176.2 147.4 L176.7 147.4 L177.2 147.4 L177.7 147.4 L178.2 147.4 L178.7 147.4 L179.2 147.4 L179.7 147.4 L180.2 147.4 L180.7 147.4 L181.2 147.4 L181.7 147.4 L182.2 147.4 L182.7 147.4 L183.2 147.4 L183.7 147.4 L184.2 147.4 L184.7 147.3 L185.2 147.3 L185.7 147.3 L186.2 147.3 L186.7 147.3 L187.2 147.3 L187.7 147.3 L188.2 147.3 L188.7 147.3 L189.2 147.2 L189.7 147.2 L190.2 147.2 L190.7 147.2 L191.2 147.2 L191.7 147.2 L192.2 147.2 L192.7 147.1 L193.2 147.1 L193.7 147.1 L194.2 147.1 L194.7 147.1 L195.2 147.1 L195.7 147.0 L196.2 147.0 L196.7 147.0 L197.2 147.0 L197.7 147.0 L198.2 146.9 L198.7 146.9 L199.2 146.9 L199.7 146.9 L200.2 146.9 L200.7 146.8 L201.2 146.8 L201.7 146.8 L202.2 146.8 L202.7 146.8 L203.2 146.7 L203.7 146.7 L204.2 146.7 L204.7 146.7 L205.2 146.6 L205.7 146.6 L206.2 146.6 L206.7 146.6 L207.2 146.5 L207.7 146.5 L208.2 146.5 L208.7 146.5 L209.2 146.4 L209.7 146.4 L210.2 146.4 L210.7 146.4 L211.2 146.3 L211.7 146.3 L212.2 146.3 L212.7 146.2 L213.2 146.2 L213.7 146.2 L214.2 146.2 L214.7 146.1 L215.2 146.1 L215.7 146.1 L216.2 146.0 L216.7 146.0 L217.2 146.0 L217.7 145.9 L218.2 145.9 L218.7 145.9 L219.2 145.9 L219.7 145.8 L220.2 145.8 L220.7 145.8 L221.2 145.7 L221.7 145.7 L222.2 145.6 L222.7 145.6 L223.2 145.6 L223.7 145.5 L224.2 145.5 L224.7 145.5 L225.2 145.4 L225.7 145.4 L226.2 145.3 L226.7 145.3 L227.2 145.3 L227.7 145.2 L228.2 145.2 L228.7 145.1 L229.2 145.1 L229.7 145.0 L230.2 145.0 L230.7 144.9 L231.2 144.9 L231.7 144.8 L232.2 144.8 L232.7 144.8 L233.2 144.7 L233.7 144.7 L234.2 144.6 L234.7 144.6 L235.2 144.5 L235.7 144.5 L236.2 144.4 L236.7 144.4 L237.2 144.3 L237.7 144.3 L238.2 144.2 L238.7 144.1 L239.2 144.1 L239.7 144.0 L240.2 144.0 L240.7 143.9 L241.2 143.9 L241.7 143.8 L242.2 143.8 L242.7 143.7 L243.2 143.7 L243.7 143.6 L244.2 143.5 L244.7 143.5 L245.2 143.4 L245.7 143.4 L246.2 143.3 L246.7 143.2 L247.2 143.2 L247.7 143.1 L248.2 143.1 L248.7 143.0 L249.2 142.9 L249.7 142.9 L250.2 142.8 L250.7 142.7 L251.2 142.7 L251.7 142.6 L252.2 142.5 L252.7 142.5 L253.2 142.4 L253.7 142.3 L254.2 142.2 L254.7 142.2 L255.2 142.1 L255.7 142.0 L256.2 142.0 L256.7 141.9 L257.2 141.8 L257.7 141.7 L258.2 141.7 L258.7 141.6 L259.2 141.5 L259.7 141.4 L260.2 141.3 L260.7 141.3 L261.2 141.2 L261.7 141.1 L262.2 141.0 L262.7 140.9 L263.2 140.8 L263.7 140.7 L264.2 140.6 L264.7 140.5 L265.2 140.4 L265.7 140.3 L266.2 140.2 L266.7 140.1 L267.2 140.0 L267.7 139.9 L268.2 139.8 L268.7 139.7 L269.2 139.6 L269.7 139.4 L270.2 139.3 L270.7 139.2 L271.2 139.0 L271.7 138.9 L272.2 138.7 L272.7 138.6 L273.2 138.4 L273.7 138.3 L274.2 138.1 L274.7 137.9 L275.2 137.7 L275.7 137.6 L276.2 137.4 L276.7 137.2 L277.2 137.0 L277.7 136.8 L278.2 136.6 L278.7 136.4 L279.2 136.2 L279.7 136.0 L280.2 135.8 L280.7 135.6 L281.2 135.4 L281.7 135.1 L282.2 134.9 L282.7 134.7 L283.2 134.4 L283.7 134.1 L284.2 133.9 L284.7 133.6 L285.2 133.3 L285.7 133.0 L286.2 132.7 L286.7 132.4 L287.2 132.1 L287.7 131.8 L288.2 131.4 L288.7 131.1 L289.2 130.8 L289.7 130.4 L290.2 130.1 L290.7 129.7 L291.2 129.3 L291.7 129.0 L292.2 128.6 L292.7 128.2 L293.2 127.8 L293.7 127.4 L294.2 127.0 L294.7 126.6 L295.2 126.2 L295.7 125.7 L296.2 125.3 L296.7 124.9 L297.2 124.4 L297.7 123.9 L298.2 123.5 L298.7 123.0 L299.2 122.5 L299.7 122.0 L300.2 121.4 L300.7 120.9 L301.2 120.4 L301.7 119.8 L302.2 119.2 L302.7 118.7 L303.2 118.1 L303.7 117.5 L304.2 116.9 L304.7 116.3 L305.2 115.7 L305.7 115.0 L306.2 114.4 L306.7 113.7 L307.2 113.1 L307.7 112.4 L308.2 111.7 L308.7 111.0 L309.2 110.3 L309.7 109.6 L310.2 108.8 L310.7 108.1 L311.2 107.3 L311.7 106.5 L312.2 105.7 L312.7 104.9 L313.2 104.0 L313.7 103.2 L314.2 102.3 L314.7 101.5 L315.2 100.6 L315.7 99.7 L316.2 98.7 L316.7 97.8 L317.2 96.8 L317.7 95.8 L318.2 94.8 L318.7 93.8 L319.2 92.8 L319.7 91.7 L320.2 90.7 L320.7 89.6 L321.2 88.5 L321.7 87.3 L322.2 86.2 L322.7 85.0 L323.2 83.8 L323.7 82.6 L324.2 81.4 L324.7 80.1 L325.2 78.9 L325.7 77.6 L326.2 76.2 L326.7 74.9 L327.2 73.5 L327.7 72.2 L328.2 70.8 L328.7 69.3 L329.2 67.9 L329.7 66.4 L330.2 64.9 L330.7 63.3 L331.2 61.8 L331.7 60.2 L332.2 58.6 L332.7 57.0 L333.2 55.3 L333.7 53.6 L334.2 51.9 L334.7 50.2 L335.2 48.4 L335.7 46.6 L336.2 44.8 L336.7 43.0 L337.2 41.1 L337.7 39.2 L338.2 37.2 L338.7 35.3 L339.2 33.3 L339.7 31.3 L340.2 29.3 L340.7 27.1 L341.2 25.0 L341.7 22.9 L342.2 20.8 L342.7 19.0 L343.2 17.3 L343.7 15.8 L344.2 14.6 L344.7 13.7 L345.2 13.0 L345.7 12.4 L346.2 12.0 L346.7 11.7 L347.2 11.5 L347.7 11.4 L348.2 11.3 L348.7 11.3 L349.2 11.4 L349.7 11.6 L350.2 11.8 L350.7 12.0 L351.2 12.3 L351.7 12.7 L352.2 13.1 L352.7 13.6 L353.2 14.1 L353.7 14.6 L354.2 15.1 L354.7 15.6 L355.2 16.1 L355.7 16.7 L356.2 17.2 L356.7 17.7 L357.2 18.2 L357.7 18.7 L358.2 19.2 L358.7 19.6 L359.2 20.1 L359.7 20.4 L360.2 20.8 L360.7 21.0 L361.2 21.2 L361.7 21.3 L362.2 21.4 L362.7 21.4 L363.2 21.4 L363.7 21.2 L364.2 21.0 L364.7 20.7 L365.2 20.3 L365.7 19.8 L366.2 19.3 L366.7 18.7 L367.2 18.1 L367.7 17.4 L368.2 16.7 L368.7 15.9 L369.2 15.0 L369.7 14.1 L370.2 13.1 L370.7 12.1 L371.2 11.0 L371.7 9.9 L372.2 8.7 L372.7 7.5 L373.2 6.3 L373.7 4.9 L374.2 3.6 L374.7 2.2 L375.2 0.8" stroke="#006400" stroke-width="1.3"/>
<path d="M67.7 224.2 L90.7 227.6 L91.2 227.7 L91.7 227.7 L92.2 227.8 L92.7 227.8 L93.2 227.9 L93.7 227.9 L94.2 228.0 L94.7 228.0 L95.2 228.1 L95.7 228.1 L96.2 228.2 L96.7 228.2 L97.2 228.3 L97.7 228.3 L98.2 228.4 L98.7 228.4 L99.2 228.5 L99.7 228.5 L100.2 228.6 L100.7 228.6 L101.2 228.6 L101.7 228.7 L102.2 228.7 L102.7 228.8 L103.2 228.8 L103.7 228.9 L104.2 228.9 L104.7 228.9 L105.2 229.0 L105.7 229.0 L106.2 229.1 L106.7 229.1 L107.2 229.1 L107.7 229.2 L108.2 229.2 L108.7 229.2 L109.2 229.3 L109.7 229.3 L110.2 229.3 L110.7 229.4 L111.2 229.4 L111.7 229.4 L112.2 229.5 L112.7 229.5 L113.2 229.5 L113.7 229.6 L114.2 229.6 L114.7 229.6 L115.2 229.7 L115.7 229.7 L116.2 229.7 L116.7 229.7 L117.2 229.8 L117.7 229.8 L118.2 229.8 L118.7 229.9 L119.2 229.9 L119.7 229.9 L120.2 229.9 L120.7 230.0 L121.2 230.0 L121.7 230.0 L122.2 230.0 L122.7 230.1 L123.2 230.1 L123.7 230.1 L124.2 230.1 L124.7 230.2 L125.2 230.2 L125.7 230.2 L126.2 230.2 L126.7 230.2 L127.2 230.3 L127.7 230.3 L128.2 230.3 L128.7 230.3 L129.2 230.3 L129.7 230.3 L130.2 230.4 L130.7 230.4 L131.2 230.4 L131.7 230.4 L132.2 230.4 L132.7 230.4 L133.2 230.4 L133.7 230.4 L134.2 230.4 L134.7 230.4 L135.2 230.5 L135.7 230.5 L136.2 230.5 L136.7 230.5 L137.2 230.5 L137.7 230.5 L138.2 230.5 L138.7 230.5 L139.2 230.5 L139.7 230.5 L140.2 230.5 L140.7 230.5 L141.2 230.5 L141.7 230.5 L142.2 230.5 L142.7 230.5 L143.2 230.5 L143.7 230.5 L144.2 230.5 L144.7 230.5 L145.2 230.5 L145.7 230.5 L146.2 230.5 L146.7 230.5 L147.2 230.5 L147.7 230.5 L148.2 230.5 L148.7 230.5 L149.2 230.5 L149.7 230.5 L150.2 230.5 L150.7 230.5 L151.2 230.5 L151.7 230.5 L152.2 230.5 L152.7 230.5 L153.2 230.4 L153.7 230.4 L154.2 230.4 L154.7 230.4 L155.2 230.4 L155.7 230.4 L156.2 230.4 L156.7 230.4 L157.2 230.4 L157.7 230.4 L158.2 230.4 L158.7 230.4 L159.2 230.4 L159.7 230.4 L160.2 230.4 L160.7 230.4 L161.2 230.4 L161.7 230.4 L162.2 230.4 L162.7 230.4 L163.2 230.4 L163.7 230.4 L164.2 230.4 L164.7 230.4 L165.2 230.4 L165.7 230.4 L166.2 230.4 L166.7 230.4 L167.2 230.4 L167.7 230.4 L168.2 230.4 L168.7 230.4 L169.2 230.4 L169.7 230.4 L170.2 230.4 L170.7 230.4 L171.2 230.4 L171.7 230.4 L172.2 230.4 L172.7 230.4 L173.2 230.4 L173.7 230.4 L174.2 230.4 L174.7 230.4 L175.2 230.4 L175.7 230.4 L176.2 230.4 L176.7 230.4 L177.2 230.4 L177.7 230.4 L178.2 230.4 L178.7 230.4 L179.2 230.4 L179.7 230.4 L180.2 230.4 L180.7 230.4 L181.2 230.4 L181.7 230.4 L182.2 230.4 L182.7 230.4 L183.2 230.4 L183.7 230.4 L184.2 230.4 L184.7 230.4 L185.2 230.4 L185.7 230.4 L186.2 230.4 L186.7 230.4 L187.2 230.4 L187.7 230.4 L188.2 230.4 L188.7 230.4 L189.2 230.4 L189.7 230.4 L190.2 230.4 L190.7 230.4 L191.2 230.4 L191.7 230.4 L192.2 230.4 L192.7 230.4 L193.2 230.4 L193.7 230.4 L194.2 230.4 L194.7 230.4 L195.2 230.4 L195.7 230.5 L196.2 230.5 L196.7 230.5 L197.2 230.5 L197.7 230.5 L198.2 230.5 L198.7 230.5 L199.2 230.5 L199.7 230.5 L200.2 230.5 L200.7 230.5 L201.2 230.5 L201.7 230.5 L202.2 230.5 L202.7 230.5 L203.2 230.5 L203.7 230.5 L204.2 230.5 L204.7 230.5 L205.2 230.5 L205.7 230.5 L206.2 230.5 L206.7 230.5 L207.2 230.5 L207.7 230.5 L208.2 230.5 L208.7 230.5 L209.2 230.5 L209.7 230.5 L210.2 230.5 L210.7 230.5 L211.2 230.5 L211.7 230.5 L212.2 230.5 L212.7 230.5 L213.2 230.5 L213.7 230.5 L214.2 230.5 L214.7 230.4 L215.2 230.4 L215.7 230.4 L216.2 230.4 L216.7 230.4 L217.2 230.4 L217.7 230.4 L218.2 230.4 L218.7 230.4 L219.2 230.4 L219.7 230.3 L220.2 230.3 L220.7 230.3 L221.2 230.3 L221.7 230.3 L222.2 230.3 L222.7 230.2 L223.2 230.2 L223.7 230.2 L224.2 230.2 L224.7 230.2 L225.2 230.2 L225.7 230.1 L226.2 230.1 L226.7 230.1 L227.2 230.1 L227.7 230.1 L228.2 230.0 L228.7 230.0 L229.2 230.0 L229.7 230.0 L230.2 229.9 L230.7 229.9 L231.2 229.9 L231.7 229.9 L232.2 229.9 L232.7 229.8 L233.2 229.8 L233.7 229.8 L234.2 229.8 L234.7 229.7 L235.2 229.7 L235.7 229.7 L236.2 229.6 L236.7 229.6 L237.2 229.6 L237.7 229.6 L238.2 229.5 L238.7 229.5 L239.2 229.5 L239.7 229.4 L240.2 229.4 L240.7 229.4 L241.2 229.3 L241.7 229.3 L242.2 229.2 L242.7 229.2 L243.2 229.2 L243.7 229.1 L244.2 229.1 L244.7 229.0 L245.2 229.0 L245.7 229.0 L246.2 228.9 L246.7 228.9 L247.2 228.8 L247.7 228.8 L248.2 228.7 L248.7 228.7 L249.2 228.6 L249.7 228.6 L250.2 228.5 L250.7 228.5 L251.2 228.4 L251.7 228.4 L252.2 228.3 L252.7 228.3 L253.2 228.2 L253.7 228.2 L254.2 228.1 L254.7 228.1 L255.2 228.0 L255.7 228.0 L256.2 227.9 L256.7 227.8 L257.2 227.8 L257.7 227.7 L258.2 227.6 L258.7 227.6 L259.2 227.5 L259.7 227.5 L260.2 227.4 L260.7 227.3 L261.2 227.3 L261.7 227.2 L262.2 227.1 L262.7 227.0 L263.2 227.0 L263.7 226.9 L264.2 226.8 L264.7 226.8 L265.2 226.7 L265.7 226.6 L266.2 226.5 L266.7 226.4 L267.2 226.4 L267.7 226.3 L268.2 226.2 L268.7 226.1 L269.2 226.0 L269.7 226.0 L270.2 225.9 L270.7 225.8 L271.2 225.7 L271.7 225.6 L272.2 225.5 L272.7 225.4 L273.2 225.3 L273.7 225.2 L274.2 225.1 L274.7 225.0 L275.2 224.9 L275.7 224.8 L276.2 224.7 L276.7 224.6 L277.2 224.5 L277.7 224.4 L278.2 224.3 L278.7 224.2 L279.2 224.1 L279.7 223.9 L280.2 223.8 L280.7 223.7 L281.2 223.6 L281.7 223.5 L282.2 223.3 L282.7 223.2 L283.2 223.1 L283.7 223.0 L284.2 222.8 L284.7 222.7 L285.2 222.6 L285.7 222.4 L286.2 222.3 L286.7 222.2 L287.2 222.0 L287.7 221.9 L288.2 221.7 L288.7 221.6 L289.2 221.4 L289.7 221.3 L290.2 221.1 L290.7 221.0 L291.2 220.8 L291.7 220.7 L292.2 220.5 L292.7 220.3 L293.2 220.2 L293.7 220.0 L294.2 219.8 L294.7 219.7 L295.2 219.5 L295.7 219.3 L296.2 219.1 L296.7 219.0 L297.2 218.8 L297.7 218.6 L298.2 218.4 L298.7 218.2 L299.2 218.0 L299.7 217.8 L300.2 217.6 L300.7 217.4 L301.2 217.2 L301.7 217.0 L302.2 216.8 L302.7 216.6 L303.2 216.4 L303.7 216.2 L304.2 216.0 L304.7 215.8 L305.2 215.5 L305.7 215.3 L306.2 215.1 L306.7 214.9 L307.2 214.6 L307.7 214.4 L308.2 214.2 L308.7 213.9 L309.2 213.7 L309.7 213.4 L310.2 213.2 L310.7 212.9 L311.2 212.7 L311.7 212.4 L312.2 212.2 L312.7 211.9 L313.2 211.6 L313.7 211.4 L314.2 211.1 L314.7 210.8 L315.2 210.5 L315.7 210.2 L316.2 210.0 L316.7 209.7 L317.2 209.4 L317.7 209.1 L318.2 208.8 L318.7 208.5 L319.2 208.1 L319.7 207.8 L320.2 207.5 L320.7 207.2 L321.2 206.9 L321.7 206.5 L322.2 206.2 L322.7 205.9 L323.2 205.5 L323.7 205.2 L324.2 204.9 L324.7 204.5 L325.2 204.2 L325.7 203.8 L326.2 203.4 L326.7 203.1 L327.2 202.7 L327.7 202.3 L328.2 202.0 L328.7 201.6 L329.2 201.3 L329.7 200.9 L330.2 200.6 L330.7 200.2 L331.2 199.9 L331.7 199.5 L332.2 199.2 L332.7 198.8 L333.2 198.5 L333.7 198.2 L334.2 197.8 L334.7 197.5 L335.2 197.2 L335.7 196.9 L336.2 196.6 L336.7 196.2 L337.2 195.9 L337.7 195.6 L338.2 195.4 L338.7 195.1 L339.2 194.8 L339.7 194.6 L340.2 194.4 L340.7 194.2 L341.2 194.0 L341.7 193.8 L342.2 193.6 L342.7 193.5 L343.2 193.3 L343.7 193.2 L344.2 193.1 L344.7 193.0 L345.2 192.9 L345.7 192.8 L346.2 192.7 L346.7 192.6 L347.2 192.5 L347.7 192.4 L348.2 192.3 L348.7 192.2 L349.2 192.2 L349.7 192.1 L350.2 192.0 L350.7 192.0 L351.2 191.9 L351.7 191.8 L352.2 191.8 L352.7 191.7 L353.2 191.7 L353.7 191.6 L354.2 191.6 L354.7 191.5 L355.2 191.5 L355.7 191.5 L356.2 191.4 L356.7 191.4 L357.2 191.4 L357.7 191.3 L358.2 191.3 L358.7 191.3 L359.2 191.3 L359.7 191.2 L360.2 191.2 L360.7 191.2 L361.2 191.2 L361.7 191.1 L362.2 191.1 L362.7 191.0 L363.2 191.0 L363.7 190.9 L364.2 190.9 L364.7 190.8 L365.2 190.7 L365.7 190.7 L366.2 190.6 L366.7 190.5 L367.2 190.3 L367.7 190.2 L368.2 190.1 L368.7 189.9 L369.2 189.7 L369.7 189.5 L370.2 189.3 L370.7 189.0 L371.2 188.8 L371.7 188.6 L372.2 188.3 L372.7 188.1 L373.2 187.9 L373.7 187.6 L374.2 187.4 L374.7 187.2 L375.2 186.9 L375.7 186.7 L376.2 186.5 L376.7 186.3 L377.2 186.0 L377.7 185.8 L378.2 185.6 L378.7 185.4 L379.2 185.1 L379.7 184.9 L380.2 184.7 L380.7 184.5 L381.2 184.3 L381.7 184.1 L382.2 183.8 L382.7 183.6 L383.2 183.4 L383.7 183.2 L384.2 183.0 L384.7 182.9 L385.2 182.7 L385.7 182.6 L386.2 182.5 L386.7 182.4 L387.2 182.3 L387.7 182.2 L388.2 182.1 L388.7 182.0 L389.2 181.9 L389.7 181.8 L390.2 181.7 L390.7 181.6 L391.2 181.4 L391.7 181.2 L392.2 181.0 L392.7 180.8 L393.2 180.6 L393.7 180.4 L394.2 180.1 L394.7 179.8 L395.2 179.5 L395.7 179.2 L396.2 178.9 L396.7 178.5 L397.2 178.2 L397.7 177.8 L398.2 177.5 L398.7 177.1 L399.2 176.7 L399.7 176.4 L400.2 176.0 L400.7 175.6 L401.2 175.2 L401.7 174.9 L402.2 174.5 L402.7 174.1 L403.2 173.7 L403.7 173.3 L404.2 172.9 L404.7 172.5 L405.2 172.1 L405.7 171.7 L406.2 171.3 L406.7 170.9 L407.2 170.5 L407.7 170.1 L408.2 169.7 L408.7 169.3 L409.2 168.9 L409.7 168.5 L410.2 168.0 L410.7 167.6 L411.2 167.2 L411.7 166.8 L412.2 166.4 L412.7 165.9 L413.2 165.5 L413.7 165.0 L414.2 164.6 L414.7 164.1 L415.2 163.7 L415.7 163.2 L416.2 162.7 L416.7 162.2 L417.2 161.7 L417.7 161.1 L418.2 160.6 L418.7 160.0 L419.2 159.4 L419.7 158.8 L420.2 158.2 L420.7 157.6 L421.2 157.0 L421.7 156.4 L422.2 155.7 L422.7 155.1 L423.2 154.5 L423.7 153.9 L424.2 153.2 L424.7 152.6 L425.2 152.0 L425.7 151.4 L426.2 150.7 L426.7 150.1 L427.2 149.5 L427.7 148.9 L428.2 148.2 L428.7 147.6 L429.2 146.9 L429.7 146.3 L430.2 145.7 L430.7 145.1 L431.2 144.5 L431.7 143.9 L432.2 143.3 L432.7 142.8 L433.2 142.3 L433.7 141.8 L434.2 141.3 L434.7 140.8 L435.2 140.4 L435.7 139.9 L436.2 139.4 L436.7 139.0 L437.2 138.5 L437.7 138.0 L438.2 137.6 L438.7 137.1 L439.2 136.6 L439.7 136.2 L440.2 135.7 L440.7 135.2 L441.2 134.8 L441.7 134.3 L442.2 133.8 L442.7 133.3 L443.2 132.9 L443.7 132.4 L444.2 131.9 L444.7 131.5 L445.2 131.0 L445.7 130.5 L446.2 130.0 L446.7 129.6 L447.2 129.1 L447.7 128.6 L448.2 128.0 L448.7 127.4 L449.2 126.8 L449.7 126.2 L450.2 125.5 L450.7 124.8 L451.2 124.1 L451.7 123.4 L452.2 122.7 L452.7 121.9 L453.2 121.1 L453.7 120.3 L454.2 119.5 L454.7 118.6 L455.2 117.7 L455.7 116.7 L456.2 115.7 L456.7 114.7 L457.2 113.7 L457.7 112.6 L458.2 111.4 L458.7 110.2 L459.2 109.0 L459.7 107.7 L460.2 106.4 L460.7 105.0 L461.2 103.6 L461.7 102.1 L462.2 100.6 L462.7 99.0 L463.2 97.4 L463.7 95.7 L464.2 93.9 L464.7 92.1 L465.2 90.2 L465.7 88.3 L466.2 86.3 L466.7 84.2 L467.2 82.1 L467.7 79.9" stroke="#ff0000" stroke-width="1.3"/>
<path d="M67.7 241.1 L90.7 244.2 L91.2 244.2 L91.7 244.3 L92.2 244.3 L92.7 244.4 L93.2 244.4 L93.7 244.5 L94.2 244.5 L94.7 244.5 L95.2 244.6 L95.7 244.6 L96.2 244.7 L96.7 244.7 L97.2 244.7 L97.7 244.8 L98.2 244.8 L98.7 244.9 L99.2 244.9 L99.7 244.9 L100.2 245.0 L100.7 245.0 L101.2 245.0 L101.7 245.1 L102.2 245.1 L102.7 245.2 L103.2 245.2 L103.7 245.2 L104.2 245.3 L104.7 245.3 L105.2 245.3 L105.7 245.4 L106.2 245.4 L106.7 245.4 L107.2 245.5 L107.7 245.5 L108.2 245.5 L108.7 245.5 L109.2 245.6 L109.7 245.6 L110.2 245.6 L110.7 245.7 L111.2 245.7 L111.7 245.7 L112.2 245.8 L112.7 245.8 L113.2 245.8 L113.7 245.8 L114.2 245.9 L114.7 245.9 L115.2 245.9 L115.7 246.0 L116.2 246.0 L116.7 246.0 L117.2 246.0 L117.7 246.1 L118.2 246.1 L118.7 246.1 L119.2 246.2 L119.7 246.2 L120.2 246.2 L120.7 246.2 L121.2 246.3 L121.7 246.3 L122.2 246.3 L122.7 246.3 L123.2 246.4 L123.7 246.4 L124.2 246.4 L124.7 246.4 L125.2 246.5 L125.7 246.5 L126.2 246.5 L126.7 246.5 L127.2 246.5 L127.7 246.6 L128.2 246.6 L128.7 246.6 L129.2 246.6 L129.7 246.6 L130.2 246.6 L130.7 246.7 L131.2 246.7 L131.7 246.7 L132.2 246.7 L132.7 246.7 L133.2 246.7 L133.7 246.7 L134.2 246.7 L134.7 246.7 L135.2 246.7 L135.7 246.8 L136.2 246.8 L136.7 246.8 L137.2 246.8 L137.7 246.8 L138.2 246.8 L138.7 246.8 L139.2 246.8 L139.7 246.8 L140.2 246.8 L140.7 246.8 L141.2 246.8 L141.7 246.8 L142.2 246.8 L142.7 246.8 L143.2 246.8 L143.7 246.8 L144.2 246.8 L144.7 246.8 L145.2 246.8 L145.7 246.8 L146.2 246.8 L146.7 246.8 L147.2 246.8 L147.7 246.8 L148.2 246.8 L148.7 246.8 L149.2 246.8 L149.7 246.8 L150.2 246.8 L150.7 246.8 L151.2 246.8 L151.7 246.8 L152.2 246.8 L152.7 246.8 L153.2 246.8 L153.7 246.8 L154.2 246.8 L154.7 246.8 L155.2 246.8 L155.7 246.8 L156.2 246.8 L156.7 246.8 L157.2 246.8 L157.7 246.8 L158.2 246.8 L158.7 246.8 L159.2 246.8 L159.7 246.8 L160.2 246.8 L160.7 246.8 L161.2 246.8 L161.7 246.8 L162.2 246.8 L162.7 246.8 L163.2 246.8 L163.7 246.8 L164.2 246.8 L164.7 246.8 L165.2 246.8 L165.7 246.8 L166.2 246.8 L166.7 246.8 L167.2 246.8 L167.7 246.8 L168.2 246.8 L168.7 246.8 L169.2 246.8 L169.7 246.8 L170.2 246.8 L170.7 246.8 L171.2 246.8 L171.7 246.8 L172.2 246.8 L172.7 246.8 L173.2 246.8 L173.7 246.8 L174.2 246.8 L174.7 246.8 L175.2 246.8 L175.7 246.9 L176.2 246.9 L176.7 246.9 L177.2 246.9 L177.7 246.9 L178.2 246.9 L178.7 246.9 L179.2 246.9 L179.7 246.9 L180.2 246.9 L180.7 246.9 L181.2 246.9 L181.7 246.9 L182.2 246.9 L182.7 246.9 L183.2 246.9 L183.7 246.9 L184.2 246.9 L184.7 246.9 L185.2 246.9 L185.7 246.9 L186.2 246.9 L186.7 246.9 L187.2 246.9 L187.7 246.9 L188.2 246.9 L188.7 246.9 L189.2 246.9 L189.7 246.9 L190.2 246.9 L190.7 246.9 L191.2 246.9 L191.7 246.9 L192.2 246.9 L192.7 246.9 L193.2 246.9 L193.7 246.9 L194.2 246.9 L194.7 246.9 L195.2 246.9 L195.7 246.9 L196.2 246.9 L196.7 246.9 L197.2 246.8 L197.7 246.8 L198.2 246.8 L198.7 246.8 L199.2 246.8 L199.7 246.8 L200.2 246.8 L200.7 246.8 L201.2 246.8 L201.7 246.8 L202.2 246.8 L202.7 246.8 L203.2 246.8 L203.7 246.8 L204.2 246.8 L204.7 246.8 L205.2 246.7 L205.7 246.7 L206.2 246.7 L206.7 246.7 L207.2 246.7 L207.7 246.7 L208.2 246.7 L208.7 246.7 L209.2 246.7 L209.7 246.6 L210.2 246.6 L210.7 246.6 L211.2 246.6 L211.7 246.6 L212.2 246.6 L212.7 246.6 L213.2 246.5 L213.7 246.5 L214.2 246.5 L214.7 246.5 L215.2 246.5 L215.7 246.5 L216.2 246.5 L216.7 246.4 L217.2 246.4 L217.7 246.4 L218.2 246.4 L218.7 246.4 L219.2 246.4 L219.7 246.3 L220.2 246.3 L220.7 246.3 L221.2 246.3 L221.7 246.3 L222.2 246.2 L222.7 246.2 L223.2 246.2 L223.7 246.2 L224.2 246.2 L224.7 246.1 L225.2 246.1 L225.7 246.1 L226.2 246.1 L226.7 246.0 L227.2 246.0 L227.7 246.0 L228.2 245.9 L228.7 245.9 L229.2 245.9 L229.7 245.9 L230.2 245.8 L230.7 245.8 L231.2 245.8 L231.7 245.7 L232.2 245.7 L232.7 245.7 L233.2 245.6 L233.7 245.6 L234.2 245.6 L234.7 245.5 L235.2 245.5 L235.7 245.5 L236.2 245.4 L236.7 245.4 L237.2 245.3 L237.7 245.3 L238.2 245.3 L238.7 245.2 L239.2 245.2 L239.7 245.1 L240.2 245.1 L240.7 245.1 L241.2 245.0 L241.7 245.0 L242.2 244.9 L242.7 244.9 L243.2 244.8 L243.7 244.8 L244.2 244.8 L244.7 244.7 L245.2 244.7 L245.7 244.6 L246.2 244.6 L246.7 244.5 L247.2 244.5 L247.7 244.4 L248.2 244.4 L248.7 244.3 L249.2 244.3 L249.7 244.2 L250.2 244.2 L250.7 244.1 L251.2 244.1 L251.7 244.0 L252.2 244.0 L252.7 243.9 L253.2 243.9 L253.7 243.8 L254.2 243.7 L254.7 243.7 L255.2 243.6 L255.7 243.5 L256.2 243.5 L256.7 243.4 L257.2 243.4 L257.7 243.3 L258.2 243.2 L258.7 243.1 L259.2 243.1 L259.7 243.0 L260.2 242.9 L260.7 242.9 L261.2 242.8 L261.7 242.7 L262.2 242.6 L262.7 242.5 L263.2 242.5 L263.7 242.4 L264.2 242.3 L264.7 242.2 L265.2 242.1 L265.7 242.0 L266.2 241.9 L266.7 241.9 L267.2 241.8 L267.7 241.7 L268.2 241.6 L268.7 241.5 L269.2 241.4 L269.7 241.3 L270.2 241.2 L270.7 241.1 L271.2 240.9 L271.7 240.8 L272.2 240.7 L272.7 240.6 L273.2 240.5 L273.7 240.4 L274.2 240.2 L274.7 240.1 L275.2 240.0 L275.7 239.9 L276.2 239.8 L276.7 239.6 L277.2 239.5 L277.7 239.4 L278.2 239.2 L278.7 239.1 L279.2 238.9 L279.7 238.8 L280.2 238.6 L280.7 238.5 L281.2 238.3 L281.7 238.2 L282.2 238.0 L282.7 237.9 L283.2 237.7 L283.7 237.5 L284.2 237.4 L284.7 237.2 L285.2 237.0 L285.7 236.8 L286.2 236.7 L286.7 236.5 L287.2 236.3 L287.7 236.1 L288.2 235.9 L288.7 235.7 L289.2 235.5 L289.7 235.3 L290.2 235.1 L290.7 234.9 L291.2 234.7 L291.7 234.5 L292.2 234.3 L292.7 234.0 L293.2 233.8 L293.7 233.6 L294.2 233.4 L294.7 233.1 L295.2 232.9 L295.7 232.7 L296.2 232.4 L296.7 232.2 L297.2 231.9 L297.7 231.7 L298.2 231.4 L298.7 231.2 L299.2 230.9 L299.7 230.6 L300.2 230.4 L300.7 230.1 L301.2 229.8 L301.7 229.5 L302.2 229.2 L302.7 229.0 L303.2 228.7 L303.7 228.4 L304.2 228.1 L304.7 227.8 L305.2 227.5 L305.7 227.2 L306.2 226.9 L306.7 226.5 L307.2 226.2 L307.7 225.9 L308.2 225.6 L308.7 225.2 L309.2 224.9 L309.7 224.6 L310.2 224.2 L310.7 223.9 L311.2 223.5 L311.7 223.2 L312.2 222.8 L312.7 222.5 L313.2 222.1 L313.7 221.8 L314.2 221.4 L314.7 221.0 L315.2 220.7 L315.7 220.3 L316.2 219.9 L316.7 219.5 L317.2 219.1 L317.7 218.7 L318.2 218.3 L318.7 217.9 L319.2 217.5 L319.7 217.1 L320.2 216.6 L320.7 216.2 L321.2 215.8 L321.7 215.4 L322.2 215.0 L322.7 214.5 L323.2 214.1 L323.7 213.7 L324.2 213.2 L324.7 212.8 L325.2 212.4 L325.7 211.9 L326.2 211.5 L326.7 211.1 L327.2 210.6 L327.7 210.2 L328.2 209.8 L328.7 209.3 L329.2 208.9 L329.7 208.5 L330.2 208.0 L330.7 207.6 L331.2 207.2 L331.7 206.8 L332.2 206.3 L332.7 205.9 L333.2 205.5 L333.7 205.1 L334.2 204.7 L334.7 204.3 L335.2 203.9 L335.7 203.4 L336.2 203.0 L336.7 202.6 L337.2 202.2 L337.7 201.8 L338.2 201.4 L338.7 201.1 L339.2 200.7 L339.7 200.4 L340.2 200.0 L340.7 199.7 L341.2 199.4 L341.7 199.1 L342.2 198.8 L342.7 198.5 L343.2 198.2 L343.7 197.9 L344.2 197.6 L344.7 197.3 L345.2 197.1 L345.7 196.8 L346.2 196.6 L346.7 196.3 L347.2 196.1 L347.7 196.0 L348.2 195.8 L348.7 195.7 L349.2 195.6 L349.7 195.5 L350.2 195.5 L350.7 195.4 L351.2 195.3 L351.7 195.2 L352.2 195.2 L352.7 195.1 L353.2 195.0 L353.7 195.0 L354.2 194.9 L354.7 194.8 L355.2 194.8 L355.7 194.7 L356.2 194.6 L356.7 194.6 L357.2 194.5 L357.7 194.4 L358.2 194.4 L358.7 194.3 L359.2 194.2 L359.7 194.2 L360.2 194.1 L360.7 194.0 L361.2 194.0 L361.7 193.9 L362.2 193.8 L362.7 193.8 L363.2 193.7 L363.7 193.6 L364.2 193.6 L364.7 193.5 L365.2 193.4 L365.7 193.3 L366.2 193.1 L366.7 192.9 L367.2 192.8 L367.7 192.6 L368.2 192.4 L368.7 192.1 L369.2 191.9 L369.7 191.7 L370.2 191.4 L370.7 191.2 L371.2 190.9 L371.7 190.7 L372.2 190.4 L372.7 190.2 L373.2 189.9 L373.7 189.6 L374.2 189.4 L374.7 189.1 L375.2 188.8 L375.7 188.5 L376.2 188.2 L376.7 188.0 L377.2 187.7 L377.7 187.4 L378.2 187.2 L378.7 186.9 L379.2 186.7 L379.7 186.4 L380.2 186.2 L380.7 186.0 L381.2 185.7 L381.7 185.5 L382.2 185.3 L382.7 185.1 L383.2 184.9 L383.7 184.7 L384.2 184.5 L384.7 184.2 L385.2 184.0 L385.7 183.8 L386.2 183.6 L386.7 183.4 L387.2 183.2 L387.7 183.0 L388.2 182.9 L388.7 182.7 L389.2 182.5 L389.7 182.4 L390.2 182.3 L390.7 182.2 L391.2 182.1 L391.7 182.0 L392.2 181.9 L392.7 181.8 L393.2 181.6 L393.7 181.5 L394.2 181.2 L394.7 181.0 L395.2 180.7 L395.7 180.4 L396.2 180.0 L396.7 179.7 L397.2 179.3 L397.7 178.9 L398.2 178.5 L398.7 178.2 L399.2 177.8 L399.7 177.4 L400.2 177.0 L400.7 176.6 L401.2 176.2 L401.7 175.9 L402.2 175.5 L402.7 175.1 L403.2 174.7 L403.7 174.3 L404.2 174.0 L404.7 173.6 L405.2 173.2 L405.7 172.8 L406.2 172.4 L406.7 172.1 L407.2 171.7 L407.7 171.3 L408.2 170.9 L408.7 170.5 L409.2 170.1 L409.7 169.7 L410.2 169.3 L410.7 169.0 L411.2 168.6 L411.7 168.2 L412.2 167.8 L412.7 167.4 L413.2 167.0 L413.7 166.6 L414.2 166.2 L414.7 165.8 L415.2 165.3 L415.7 164.9 L416.2 164.4 L416.7 163.9 L417.2 163.4 L417.7 162.9 L418.2 162.4 L418.7 161.8 L419.2 161.2 L419.7 160.6 L420.2 160.0 L420.7 159.3 L421.2 158.7 L421.7 158.0 L422.2 157.4 L422.7 156.7 L423.2 156.1 L423.7 155.4 L424.2 154.8 L424.7 154.1 L425.2 153.4 L425.7 152.8 L426.2 152.1 L426.7 151.5 L427.2 150.8 L427.7 150.2 L428.2 149.5 L428.7 148.9 L429.2 148.2 L429.7 147.5 L430.2 146.9 L430.7 146.2 L431.2 145.6 L431.7 144.9 L432.2 144.3 L432.7 143.7 L433.2 143.1 L433.7 142.6 L434.2 142.1 L434.7 141.5 L435.2 141.0 L435.7 140.6 L436.2 140.1 L436.7 139.6 L437.2 139.1 L437.7 138.7 L438.2 138.2 L438.7 137.8 L439.2 137.3 L439.7 136.9 L440.2 136.4 L440.7 135.9 L441.2 135.5 L441.7 135.0 L442.2 134.5 L442.7 134.1 L443.2 133.6 L443.7 133.1 L444.2 132.7 L444.7 132.2 L445.2 131.8 L445.7 131.3 L446.2 130.8 L446.7 130.4 L447.2 129.9 L447.7 129.4 L448.2 128.9 L448.7 128.3 L449.2 127.7 L449.7 127.1 L450.2 126.4 L450.7 125.7 L451.2 125.0 L451.7 124.3 L452.2 123.6 L452.7 122.8 L453.2 122.0 L453.7 121.2 L454.2 120.4 L454.7 119.5 L455.2 118.5 L455.7 117.6 L456.2 116.6 L456.7 115.6 L457.2 114.5 L457.7 113.4 L458.2 112.2 L458.7 111.0 L459.2 109.8 L459.7 108.5 L460.2 107.2 L460.7 105.8 L461.2 104.4 L461.7 103.0 L462.2 101.4 L462.7 99.8 L463.2 98.2 L463.7 96.5 L464.2 94.8 L464.7 93.0 L465.2 91.2 L465.7 89.2 L466.2 87.3 L466.7 85.2 L467.2 83.1 L467.7 81.0" stroke="#0000ff" stroke-width="1.3"/>
<path d="M67.8 283.5 L68.3 283.3 L68.8 283.1 L69.3 282.9 L69.8 282.7 L70.3 282.6 L70.8 282.4 L71.3 282.2 L71.8 282.1 L72.3 282.0 L72.8 281.8 L73.3 281.7 L73.8 281.5 L74.3 281.4 L74.8 281.2 L75.3 281.0 L75.8 280.9 L76.3 280.7 L76.8 280.5 L77.3 280.3 L77.8 280.2 L78.3 280.0 L78.8 279.8 L79.3 279.6 L79.8 279.4 L80.3 279.2 L80.8 279.0 L81.3 278.8 L81.8 278.6 L82.3 278.4 L82.8 278.3 L83.3 278.1 L83.8 277.9 L84.3 277.7 L84.8 277.5 L85.3 277.3 L85.8 277.2 L86.3 277.0 L86.8 276.8 L87.3 276.6 L87.8 276.4 L88.3 276.2 L88.8 276.1 L89.3 275.9 L89.8 275.7 L90.3 275.5 L90.8 275.3 L91.3 275.2 L91.8 275.0 L92.3 274.8 L92.8 274.6 L93.3 274.4 L93.8 274.2 L94.3 274.1 L94.8 273.9 L95.3 273.7 L95.8 273.5 L96.3 273.3 L96.8 273.2 L97.3 273.0 L97.8 272.8 L98.3 272.6 L98.8 272.4 L99.3 272.3 L99.8 272.1 L100.3 271.9 L100.8 271.7 L101.3 271.5 L101.8 271.4 L102.3 271.2 L102.8 271.0 L103.3 270.8 L103.8 270.6 L104.3 270.4 L104.8 270.3 L105.3 270.1 L105.8 269.9 L106.3 269.7 L106.8 269.5 L107.3 269.4 L107.8 269.2 L108.3 269.0 L108.8 268.8 L109.3 268.6 L109.8 268.4 L110.3 268.2 L110.8 268.0 L111.3 267.9 L111.8 267.7 L112.3 267.5 L112.8 267.3 L113.3 267.1 L113.8 266.9 L114.3 266.7 L114.8 266.5 L115.3 266.3 L115.8 266.1 L116.3 265.9 L116.8 265.7 L117.3 265.5 L117.8 265.3 L118.3 265.1 L118.8 264.8 L119.3 264.6 L119.8 264.4 L120.3 264.1 L120.8 263.9 L121.3 263.7 L121.8 263.5 L122.3 263.3 L122.8 263.1 L123.3 262.9 L123.8 262.8 L124.3 262.6 L124.8 262.5 L125.3 262.3 L125.8 262.1 L126.3 262.0 L126.8 261.8 L127.3 261.7 L127.8 261.5 L128.3 261.4 L128.8 261.2 L129.3 261.1 L129.8 260.9 L130.3 260.8 L130.8 260.6 L131.3 260.4 L131.8 260.3 L132.3 260.1 L132.8 260.0 L133.3 259.8 L133.8 259.7 L134.3 259.5 L134.8 259.4 L135.3 259.2 L135.8 259.1 L136.3 258.9 L136.8 258.8 L137.3 258.6 L137.8 258.4 L138.3 258.3 L138.8 258.1 L139.3 258.0 L139.8 257.8 L140.3 257.7 L140.8 257.5 L141.3 257.4 L141.8 257.2 L142.3 257.1 L142.8 256.9 L143.3 256.8 L143.8 256.6 L144.3 256.4 L144.8 256.3 L145.3 256.1 L145.8 256.0 L146.3 255.8 L146.8 255.7 L147.3 255.5 L147.8 255.4 L148.3 255.2 L148.8 255.1 L149.3 254.9 L149.8 254.8 L150.3 254.6 L150.8 254.5 L151.3 254.3 L151.8 254.1 L152.3 254.0 L152.8 253.8 L153.3 253.7 L153.8 253.5 L154.3 253.4 L154.8 253.2 L155.3 253.1 L155.8 252.9 L156.3 252.8 L156.8 252.6 L157.3 252.5 L157.8 252.3 L158.3 252.2 L158.8 252.0 L159.3 251.9 L159.8 251.7 L160.3 251.6 L160.8 251.4 L161.3 251.3 L161.8 251.1 L162.3 251.0 L162.8 250.8 L163.3 250.7 L163.8 250.5 L164.3 250.4 L164.8 250.2 L165.3 250.1 L165.8 249.9 L166.3 249.8 L166.8 249.6 L167.3 249.5 L167.8 249.3 L168.3 249.2 L168.8 249.0 L169.3 248.9 L169.8 248.8 L170.3 248.6 L170.8 248.5 L171.3 248.3 L171.8 248.2 L172.3 248.0 L172.8 247.9 L173.3 247.8 L173.8 247.6 L174.3 247.5 L174.8 247.4 L175.3 247.3 L175.8 247.1 L176.3 247.0 L176.8 246.9 L177.3 246.8 L177.8 246.7 L178.3 246.6 L178.8 246.5 L179.3 246.4 L179.8 246.3 L180.3 246.2 L180.8 246.1 L181.3 246.0 L181.8 245.9 L182.3 245.8 L182.8 245.7 L183.3 245.6 L183.8 245.5 L184.3 245.4 L184.8 245.3 L185.3 245.3 L185.8 245.2 L186.3 245.1 L186.8 245.0 L187.3 245.0 L187.8 244.9 L188.3 244.8 L188.8 244.7 L189.3 244.7 L189.8 244.6 L190.3 244.5 L190.8 244.5 L191.3 244.4 L191.8 244.3 L192.3 244.2 L192.8 244.2 L193.3 244.1 L193.8 244.0 L194.3 244.0 L194.8 243.9 L195.3 243.8 L195.8 243.8 L196.3 243.7 L196.8 243.6 L197.3 243.6 L197.8 243.5 L198.3 243.4 L198.8 243.4 L199.3 243.3 L199.8 243.2 L200.3 243.2 L200.8 243.1 L201.3 243.0 L201.8 243.0 L202.3 242.9 L202.8 242.9 L203.3 242.8 L203.8 242.8 L204.3 242.7 L204.8 242.7 L205.3 242.6 L205.8 242.6 L206.3 242.6 L206.8 242.6 L207.3 242.5 L207.8 242.5 L208.3 242.5 L208.8 242.5 L209.3 242.5 L209.8 242.4 L210.3 242.4 L210.8 242.4 L211.3 242.4 L211.8 242.4 L212.3 242.4 L212.8 242.3 L213.3 242.3 L213.8 242.3 L214.3 242.3 L214.8 242.3 L215.3 242.3 L215.8 242.3 L216.3 242.2 L216.8 242.2 L217.3 242.2 L217.8 242.2 L218.3 242.2 L218.8 242.2 L219.3 242.2 L219.8 242.2 L220.3 242.2 L220.8 242.2 L221.3 242.2 L221.8 242.2 L222.3 242.2 L222.8 242.2 L223.3 242.2 L223.8 242.2 L224.3 242.3 L224.8 242.3 L225.3 242.3 L225.8 242.3 L226.3 242.3 L226.8 242.3 L227.3 242.3 L227.8 242.4 L228.3 242.4 L228.8 242.4 L229.3 242.4 L229.8 242.5 L230.3 242.5 L230.8 242.5 L231.3 242.5 L231.8 242.6 L232.3 242.6 L232.8 242.6 L233.3 242.7 L233.8 242.7 L234.3 242.8 L234.8 242.8 L235.3 242.9 L235.8 242.9 L236.3 243.0 L236.8 243.0 L237.3 243.1 L237.8 243.1 L238.3 243.2 L238.8 243.3 L239.3 243.3 L239.8 243.4 L240.3 243.5 L240.8 243.6 L241.3 243.6 L241.8 243.7 L242.3 243.8 L242.8 243.9 L243.3 243.9 L243.8 244.0 L244.3 244.1 L244.8 244.2 L245.3 244.3 L245.8 244.3 L246.3 244.4 L246.8 244.5 L247.3 244.6 L247.8 244.6 L248.3 244.7 L248.8 244.8 L249.3 244.9 L249.8 245.0 L250.3 245.1 L250.8 245.2 L251.3 245.3 L251.8 245.4 L252.3 245.5 L252.8 245.7 L253.3 245.8 L253.8 245.9 L254.3 246.1 L254.8 246.2 L255.3 246.4 L255.8 246.5 L256.3 246.7 L256.8 246.8 L257.3 247.0 L257.8 247.2 L258.3 247.3 L258.8 247.5 L259.3 247.6 L259.8 247.8 L260.3 247.9 L260.8 248.1 L261.3 248.2 L261.8 248.4 L262.3 248.5 L262.8 248.7 L263.3 248.8 L263.8 249.0 L264.3 249.1 L264.8 249.3 L265.3 249.4 L265.8 249.6 L266.3 249.7 L266.8 249.9 L267.3 250.0 L267.8 250.2 L268.3 250.3 L268.8 250.5 L269.3 250.7 L269.8 250.8 L270.3 251.0 L270.8 251.2 L271.3 251.4 L271.8 251.6 L272.3 251.8 L272.8 252.0 L273.3 252.2 L273.8 252.4 L274.3 252.6 L274.8 252.9 L275.3 253.1 L275.8 253.3 L276.3 253.5 L276.8 253.8 L277.3 254.0 L277.8 254.2 L278.3 254.5 L278.8 254.7 L279.3 254.9 L279.8 255.2 L280.3 255.4 L280.8 255.7 L281.3 255.9 L281.8 256.2 L282.3 256.4 L282.8 256.7 L283.3 256.9 L283.8 257.2 L284.3 257.4 L284.8 257.7 L285.3 258.0 L285.8 258.2 L286.3 258.5 L286.8 258.8 L287.3 259.0 L287.8 259.3 L288.3 259.6 L288.8 259.8 L289.3 260.1 L289.8 260.4 L290.3 260.7 L290.8 260.9 L291.3 261.2 L291.8 261.5 L292.3 261.8 L292.8 262.1 L293.3 262.4 L293.8 262.6 L294.3 262.9 L294.8 263.2 L295.3 263.5 L295.8 263.8 L296.3 264.1 L296.8 264.4 L297.3 264.8 L297.8 265.1 L298.3 265.4 L298.8 265.7 L299.3 266.0 L299.8 266.3 L300.3 266.6 L300.8 266.9 L301.3 267.3 L301.8 267.6 L302.3 267.9 L302.8 268.2 L303.3 268.5 L303.8 268.9 L304.3 269.2 L304.8 269.5 L305.3 269.9 L305.8 270.2 L306.3 270.5 L306.8 270.9 L307.3 271.2 L307.8 271.6 L308.3 271.9 L308.8 272.3 L309.3 272.6 L309.8 273.0 L310.3 273.4 L310.8 273.7 L311.3 274.1 L311.8 274.5 L312.3 274.9 L312.8 275.3 L313.3 275.7 L313.8 276.1 L314.3 276.5 L314.8 276.9 L315.3 277.2 L315.8 277.6 L316.3 278.0 L316.8 278.4 L317.3 278.9 L317.8 279.3 L318.3 279.7 L318.8 280.2 L319.3 280.6 L319.8 281.1 L320.3 281.6 L320.8 282.1 L321.3 282.7 L321.8 283.2 L322.3 283.8 L322.8 284.4 L323.0 284.6" stroke="#000" stroke-width="1.25" stroke-dasharray="1.9 1 1.5 3.9"/>
</g>
<path d="M67.6 284.1v-2.5M67.6 1.8v2.5M89.8 284.1v-2.5M89.8 1.8v2.5M105.5 284.1v-2.5M105.5 1.8v2.5M117.7 284.1v-2.5M117.7 1.8v2.5M127.7 284.1v-2.5M127.7 1.8v2.5M136.1 284.1v-2.5M136.1 1.8v2.5M143.4 284.1v-2.5M143.4 1.8v2.5M149.8 284.1v-2.5M149.8 1.8v2.5M155.6 284.1v-4.4M155.6 1.8v4.4M193.5 284.1v-2.5M193.5 1.8v2.5M215.7 284.1v-2.5M215.7 1.8v2.5M231.4 284.1v-2.5M231.4 1.8v2.5M243.6 284.1v-2.5M243.6 1.8v2.5M253.6 284.1v-2.5M253.6 1.8v2.5M262.0 284.1v-2.5M262.0 1.8v2.5M269.3 284.1v-2.5M269.3 1.8v2.5M275.7 284.1v-2.5M275.7 1.8v2.5M281.5 284.1v-4.4M281.5 1.8v4.4M319.4 284.1v-2.5M319.4 1.8v2.5M341.6 284.1v-2.5M341.6 1.8v2.5M357.3 284.1v-2.5M357.3 1.8v2.5M369.5 284.1v-2.5M369.5 1.8v2.5M379.5 284.1v-2.5M379.5 1.8v2.5M387.9 284.1v-2.5M387.9 1.8v2.5M395.2 284.1v-2.5M395.2 1.8v2.5M401.6 284.1v-2.5M401.6 1.8v2.5M407.4 284.1v-4.4M407.4 1.8v4.4M445.3 284.1v-2.5M445.3 1.8v2.5M467.5 284.1v-2.5M467.5 1.8v2.5M67.6 284.8h2.5M469.6 284.8h-2.5M67.6 277.3h2.5M469.6 277.3h-2.5M67.6 271.0h2.5M469.6 271.0h-2.5M67.6 265.5h2.5M469.6 265.5h-2.5M67.6 260.7h2.5M469.6 260.7h-2.5M67.6 256.4h4.4M469.6 256.4h-4.4M67.6 228.0h2.5M469.6 228.0h-2.5M67.6 211.4h2.5M469.6 211.4h-2.5M67.6 199.6h2.5M469.6 199.6h-2.5M67.6 190.5h2.5M469.6 190.5h-2.5M67.6 183.0h2.5M469.6 183.0h-2.5M67.6 176.7h2.5M469.6 176.7h-2.5M67.6 171.2h2.5M469.6 171.2h-2.5M67.6 166.4h2.5M469.6 166.4h-2.5M67.6 162.1h4.4M469.6 162.1h-4.4M67.6 133.7h2.5M469.6 133.7h-2.5M67.6 117.1h2.5M469.6 117.1h-2.5M67.6 105.3h2.5M469.6 105.3h-2.5M67.6 96.2h2.5M469.6 96.2h-2.5M67.6 88.7h2.5M469.6 88.7h-2.5M67.6 82.4h2.5M469.6 82.4h-2.5M67.6 76.9h2.5M469.6 76.9h-2.5M67.6 72.1h2.5M469.6 72.1h-2.5M67.6 67.8h4.4M469.6 67.8h-4.4M67.6 39.4h2.5M469.6 39.4h-2.5M67.6 22.8h2.5M469.6 22.8h-2.5M67.6 11.0h2.5M469.6 11.0h-2.5M67.6 1.9h2.5M469.6 1.9h-2.5" stroke="#000" stroke-width="0.8" fill="none"/>
<path d="M67.6 1.3V284.84999999999997M469.6 284.84999999999997V1.3" stroke="#000" stroke-width="1.2" fill="none"/>
<path d="M67.0 284.15H470.20000000000005" stroke="#000" stroke-width="1.45" fill="none"/>
<path d="M67.0 1.85H470.20000000000005" stroke="#727272" stroke-width="1.7" fill="none"/>
<text x="215.6" y="20" font-family="Liberation Serif, DejaVu Serif, serif" font-size="14.6" fill="#383838" textLength="23.6" lengthAdjust="spacingAndGlyphs"><tspan font-style="normal">Θ</tspan><tspan font-style="italic">B</tspan></text>
<text x="215.6" y="73.7" font-family="Liberation Serif, DejaVu Serif, serif" font-size="14.6" fill="#383838" textLength="23.6" lengthAdjust="spacingAndGlyphs"><tspan font-style="italic">E</tspan><tspan font-style="italic">B</tspan></text>
<text x="215.6" y="142.3" font-family="Liberation Serif, DejaVu Serif, serif" font-size="14.6" fill="#383838" textLength="23.6" lengthAdjust="spacingAndGlyphs"><tspan font-style="italic">E</tspan><tspan font-style="italic">E</tspan></text>
<text x="215.6" y="184" font-family="Liberation Serif, DejaVu Serif, serif" font-size="14.6" fill="#383838" textLength="23.6" lengthAdjust="spacingAndGlyphs"><tspan font-style="normal">Θ</tspan><tspan font-style="italic">E</tspan></text>
<text x="215.6" y="226.9" font-family="Liberation Serif, DejaVu Serif, serif" font-size="14.6" fill="#383838" textLength="23.6" lengthAdjust="spacingAndGlyphs"><tspan font-style="normal">Θ</tspan><tspan font-style="normal">Θ</tspan></text>
<text x="215.8" y="259.8" font-family="Liberation Sans, DejaVu Sans, sans-serif" font-size="13.7" fill="#222">mv</text>
<text x="158.2" y="304" text-anchor="middle" font-family="Liberation Serif, DejaVu Serif, serif" font-size="15.5" fill="#383838">10</text>
<text x="284.1" y="304" text-anchor="middle" font-family="Liberation Serif, DejaVu Serif, serif" font-size="15.5" fill="#383838">100</text>
<text x="410.0" y="304" text-anchor="middle" font-family="Liberation Serif, DejaVu Serif, serif" font-size="15.5" fill="#383838">1000</text>
<text x="27.3" y="72.2" font-family="Liberation Serif, DejaVu Serif, serif" font-size="15.8" fill="#383838">10<tspan font-size="13.6" dy="-5.8" dx="0.4">−</tspan><tspan font-size="11.8" dx="0.1">5</tspan></text>
<text x="27.3" y="166.5" font-family="Liberation Serif, DejaVu Serif, serif" font-size="15.8" fill="#383838">10<tspan font-size="13.6" dy="-5.8" dx="0.4">−</tspan><tspan font-size="11.8" dx="0.1">6</tspan></text>
<text x="27.3" y="260.8" font-family="Liberation Serif, DejaVu Serif, serif" font-size="15.8" fill="#383838">10<tspan font-size="13.6" dy="-5.8" dx="0.4">−</tspan><tspan font-size="11.8" dx="0.1">7</tspan></text>
<text x="268.7" y="326.7" text-anchor="middle" font-family="Liberation Serif, DejaVu Serif, serif" font-style="italic" font-size="17.6" fill="#383838">ℓ</text>
<text transform="translate(12.6 195.7) rotate(-90)" font-family="Liberation Serif, DejaVu Serif, serif" font-size="15" fill="#383838"><tspan x="-1.4" y="1.5" font-size="18">[</tspan><tspan x="2.4" y="0" font-size="15.8" font-style="italic">ℓ</tspan><tspan x="9.6" y="0.2" font-size="16.8">(</tspan><tspan x="14.7" y="0" font-size="15.8" font-style="italic">ℓ</tspan><tspan x="25.0" y="2.5" font-size="19">+</tspan><tspan x="39.8" y="0" font-size="14.9">1</tspan><tspan x="47.8" y="0.2" font-size="16.8">)</tspan><tspan x="51.2" y="1.5" font-size="18">]</tspan><tspan x="57.6" y="-5.5" font-size="9.8">2</tspan><tspan x="64.1" y="0" font-size="15.9" font-style="italic">N</tspan><tspan x="75.9" y="2.3" font-size="10.9" font-style="italic">ℓ</tspan><tspan x="81.9" y="3.6" font-size="22">/</tspan><tspan x="88.8" y="0" font-size="14.9">2</tspan><tspan x="96.7" y="0" font-size="15.5" font-style="italic">π</tspan></text>
</svg>
</body></html>
